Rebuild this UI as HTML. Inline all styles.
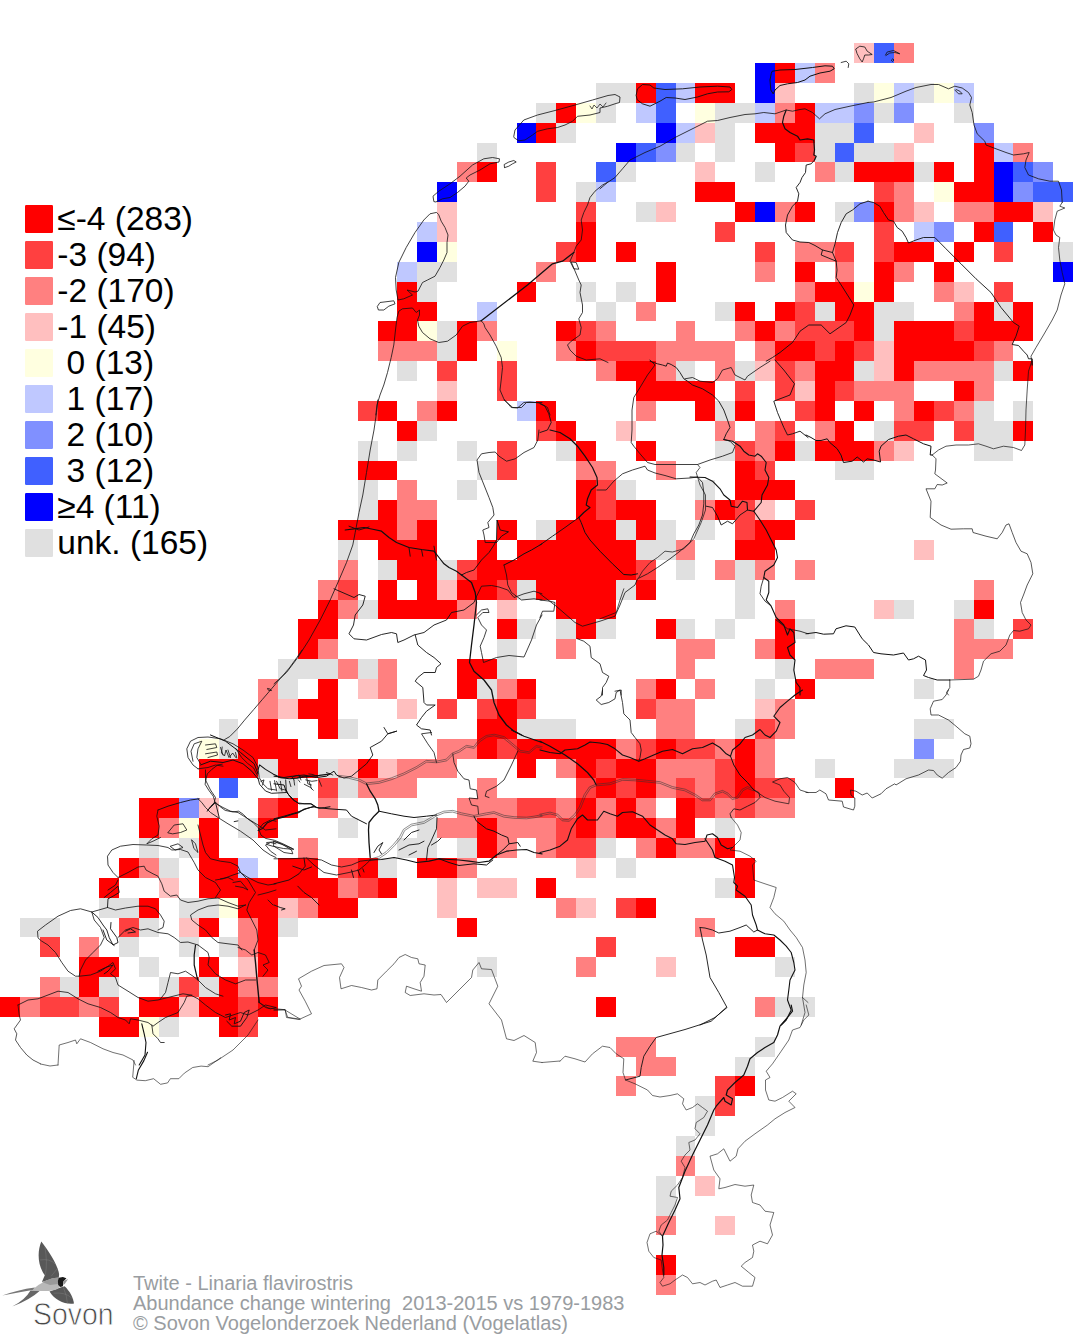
<!DOCTYPE html>
<html><head><meta charset="utf-8"><title>Twite</title>
<style>
html,body{margin:0;padding:0;background:#fff;}
body{width:1074px;height:1340px;overflow:hidden;font-family:"Liberation Sans",sans-serif;}
svg{display:block}
.lg{font-family:"Liberation Sans",sans-serif;font-size:33.5px;fill:#000;}
.ft{font-family:"Liberation Sans",sans-serif;font-size:20px;fill:#999da1;white-space:pre;}
</style></head><body>
<svg width="1074" height="1340" viewBox="0 0 1074 1340">
<g shape-rendering="crispEdges">
<rect x="854" y="43" width="20" height="20" fill="#ffbfbf"/>
<rect x="874" y="43" width="20" height="20" fill="#4060ff"/>
<rect x="894" y="43" width="20" height="20" fill="#ff8080"/>
<rect x="755" y="63" width="20" height="20" fill="#0000ff"/>
<rect x="775" y="63" width="20" height="20" fill="#ff0000"/>
<rect x="795" y="63" width="20" height="20" fill="#bfc8ff"/>
<rect x="815" y="63" width="20" height="20" fill="#ff8080"/>
<rect x="596" y="83" width="40" height="20" fill="#e0e0e0"/>
<rect x="636" y="83" width="20" height="20" fill="#ff0000"/>
<rect x="656" y="83" width="20" height="20" fill="#4060ff"/>
<rect x="676" y="83" width="19" height="20" fill="#bfc8ff"/>
<rect x="695" y="83" width="40" height="20" fill="#ff0000"/>
<rect x="755" y="83" width="20" height="20" fill="#0000ff"/>
<rect x="775" y="83" width="20" height="20" fill="#ffbfbf"/>
<rect x="854" y="83" width="20" height="20" fill="#e0e0e0"/>
<rect x="874" y="83" width="20" height="20" fill="#ffffe0"/>
<rect x="894" y="83" width="20" height="20" fill="#bfc8ff"/>
<rect x="914" y="83" width="20" height="20" fill="#e0e0e0"/>
<rect x="934" y="83" width="20" height="20" fill="#ffffe0"/>
<rect x="954" y="83" width="20" height="20" fill="#bfc8ff"/>
<rect x="536" y="103" width="20" height="20" fill="#e0e0e0"/>
<rect x="556" y="103" width="20" height="20" fill="#ff0000"/>
<rect x="576" y="103" width="20" height="20" fill="#ffffe0"/>
<rect x="596" y="103" width="20" height="20" fill="#e0e0e0"/>
<rect x="636" y="103" width="20" height="20" fill="#bfc8ff"/>
<rect x="656" y="103" width="20" height="20" fill="#4060ff"/>
<rect x="695" y="103" width="20" height="20" fill="#ffffe0"/>
<rect x="715" y="103" width="40" height="20" fill="#e0e0e0"/>
<rect x="755" y="103" width="20" height="20" fill="#bfc8ff"/>
<rect x="775" y="103" width="20" height="20" fill="#ff8080"/>
<rect x="795" y="103" width="20" height="20" fill="#ff0000"/>
<rect x="815" y="103" width="39" height="20" fill="#bfc8ff"/>
<rect x="854" y="103" width="20" height="20" fill="#8090ff"/>
<rect x="874" y="103" width="20" height="20" fill="#e0e0e0"/>
<rect x="894" y="103" width="20" height="20" fill="#8090ff"/>
<rect x="954" y="103" width="20" height="20" fill="#e0e0e0"/>
<rect x="517" y="123" width="19" height="20" fill="#0000ff"/>
<rect x="536" y="123" width="20" height="20" fill="#ff0000"/>
<rect x="556" y="123" width="20" height="20" fill="#e0e0e0"/>
<rect x="656" y="123" width="20" height="20" fill="#0000ff"/>
<rect x="676" y="123" width="19" height="20" fill="#bfc8ff"/>
<rect x="695" y="123" width="20" height="20" fill="#ffbfbf"/>
<rect x="715" y="123" width="20" height="20" fill="#e0e0e0"/>
<rect x="755" y="123" width="60" height="20" fill="#ff0000"/>
<rect x="815" y="123" width="39" height="20" fill="#e0e0e0"/>
<rect x="854" y="123" width="20" height="20" fill="#4060ff"/>
<rect x="914" y="123" width="20" height="20" fill="#ffbfbf"/>
<rect x="974" y="123" width="20" height="20" fill="#8090ff"/>
<rect x="477" y="143" width="20" height="19" fill="#e0e0e0"/>
<rect x="616" y="143" width="20" height="19" fill="#0000ff"/>
<rect x="636" y="143" width="20" height="19" fill="#4060ff"/>
<rect x="656" y="143" width="20" height="19" fill="#8090ff"/>
<rect x="676" y="143" width="19" height="19" fill="#e0e0e0"/>
<rect x="715" y="143" width="20" height="19" fill="#e0e0e0"/>
<rect x="775" y="143" width="20" height="19" fill="#ff0000"/>
<rect x="795" y="143" width="20" height="19" fill="#ff4040"/>
<rect x="815" y="143" width="20" height="19" fill="#e0e0e0"/>
<rect x="835" y="143" width="19" height="19" fill="#4060ff"/>
<rect x="854" y="143" width="40" height="19" fill="#e0e0e0"/>
<rect x="894" y="143" width="20" height="19" fill="#ffbfbf"/>
<rect x="974" y="143" width="20" height="19" fill="#ff0000"/>
<rect x="994" y="143" width="19" height="19" fill="#bfc8ff"/>
<rect x="1013" y="143" width="20" height="19" fill="#ff8080"/>
<rect x="457" y="162" width="20" height="20" fill="#ff8080"/>
<rect x="477" y="162" width="20" height="20" fill="#ff0000"/>
<rect x="536" y="162" width="20" height="20" fill="#ff4040"/>
<rect x="596" y="162" width="20" height="20" fill="#4060ff"/>
<rect x="616" y="162" width="20" height="20" fill="#e0e0e0"/>
<rect x="695" y="162" width="20" height="20" fill="#ffbfbf"/>
<rect x="755" y="162" width="20" height="20" fill="#e0e0e0"/>
<rect x="815" y="162" width="20" height="20" fill="#ff8080"/>
<rect x="835" y="162" width="19" height="20" fill="#e0e0e0"/>
<rect x="854" y="162" width="60" height="20" fill="#ff0000"/>
<rect x="914" y="162" width="20" height="20" fill="#e0e0e0"/>
<rect x="934" y="162" width="20" height="20" fill="#ff0000"/>
<rect x="974" y="162" width="20" height="20" fill="#ff0000"/>
<rect x="994" y="162" width="19" height="20" fill="#0000ff"/>
<rect x="1013" y="162" width="20" height="20" fill="#4060ff"/>
<rect x="1033" y="162" width="20" height="20" fill="#8090ff"/>
<rect x="437" y="182" width="20" height="20" fill="#0000ff"/>
<rect x="536" y="182" width="20" height="20" fill="#ff4040"/>
<rect x="576" y="182" width="20" height="20" fill="#e0e0e0"/>
<rect x="596" y="182" width="20" height="20" fill="#bfc8ff"/>
<rect x="695" y="182" width="40" height="20" fill="#ff0000"/>
<rect x="874" y="182" width="20" height="20" fill="#ff4040"/>
<rect x="894" y="182" width="20" height="20" fill="#ff8080"/>
<rect x="934" y="182" width="20" height="20" fill="#ffffe0"/>
<rect x="954" y="182" width="40" height="20" fill="#ff0000"/>
<rect x="994" y="182" width="19" height="20" fill="#0000ff"/>
<rect x="1013" y="182" width="20" height="20" fill="#8090ff"/>
<rect x="1033" y="182" width="40" height="20" fill="#4060ff"/>
<rect x="437" y="202" width="20" height="20" fill="#ffbfbf"/>
<rect x="576" y="202" width="20" height="20" fill="#ff4040"/>
<rect x="636" y="202" width="20" height="20" fill="#e0e0e0"/>
<rect x="656" y="202" width="20" height="20" fill="#ffbfbf"/>
<rect x="735" y="202" width="20" height="20" fill="#ff0000"/>
<rect x="755" y="202" width="20" height="20" fill="#0000ff"/>
<rect x="775" y="202" width="20" height="20" fill="#ff8080"/>
<rect x="795" y="202" width="20" height="20" fill="#ff0000"/>
<rect x="835" y="202" width="19" height="20" fill="#e0e0e0"/>
<rect x="854" y="202" width="20" height="20" fill="#8090ff"/>
<rect x="874" y="202" width="20" height="20" fill="#ff0000"/>
<rect x="894" y="202" width="20" height="20" fill="#ff8080"/>
<rect x="914" y="202" width="20" height="20" fill="#ffbfbf"/>
<rect x="954" y="202" width="40" height="20" fill="#ff8080"/>
<rect x="994" y="202" width="39" height="20" fill="#ff0000"/>
<rect x="1033" y="202" width="20" height="20" fill="#ffbfbf"/>
<rect x="417" y="222" width="20" height="20" fill="#bfc8ff"/>
<rect x="437" y="222" width="20" height="20" fill="#ffbfbf"/>
<rect x="576" y="222" width="20" height="20" fill="#ff0000"/>
<rect x="715" y="222" width="20" height="20" fill="#ff4040"/>
<rect x="874" y="222" width="20" height="20" fill="#ff4040"/>
<rect x="914" y="222" width="20" height="20" fill="#bfc8ff"/>
<rect x="934" y="222" width="20" height="20" fill="#8090ff"/>
<rect x="974" y="222" width="20" height="20" fill="#ff0000"/>
<rect x="994" y="222" width="19" height="20" fill="#4060ff"/>
<rect x="1033" y="222" width="20" height="20" fill="#ff0000"/>
<rect x="417" y="242" width="20" height="20" fill="#0000ff"/>
<rect x="437" y="242" width="20" height="20" fill="#ffffe0"/>
<rect x="556" y="242" width="20" height="20" fill="#ff4040"/>
<rect x="576" y="242" width="20" height="20" fill="#ff0000"/>
<rect x="616" y="242" width="20" height="20" fill="#ff0000"/>
<rect x="755" y="242" width="20" height="20" fill="#ff4040"/>
<rect x="795" y="242" width="40" height="20" fill="#ff8080"/>
<rect x="835" y="242" width="19" height="20" fill="#ff4040"/>
<rect x="874" y="242" width="20" height="20" fill="#ff4040"/>
<rect x="894" y="242" width="40" height="20" fill="#ff0000"/>
<rect x="954" y="242" width="20" height="20" fill="#ff0000"/>
<rect x="994" y="242" width="19" height="20" fill="#ff4040"/>
<rect x="1053" y="242" width="20" height="20" fill="#e0e0e0"/>
<rect x="397" y="262" width="20" height="20" fill="#bfc8ff"/>
<rect x="417" y="262" width="40" height="20" fill="#e0e0e0"/>
<rect x="536" y="262" width="20" height="20" fill="#ff8080"/>
<rect x="656" y="262" width="20" height="20" fill="#ff0000"/>
<rect x="755" y="262" width="20" height="20" fill="#ff8080"/>
<rect x="795" y="262" width="20" height="20" fill="#ff0000"/>
<rect x="835" y="262" width="19" height="20" fill="#ff8080"/>
<rect x="874" y="262" width="20" height="20" fill="#ff0000"/>
<rect x="894" y="262" width="20" height="20" fill="#ff8080"/>
<rect x="934" y="262" width="20" height="20" fill="#ff0000"/>
<rect x="1053" y="262" width="20" height="20" fill="#0000ff"/>
<rect x="397" y="282" width="20" height="20" fill="#ff0000"/>
<rect x="417" y="282" width="20" height="20" fill="#e0e0e0"/>
<rect x="517" y="282" width="19" height="20" fill="#ff0000"/>
<rect x="576" y="282" width="20" height="20" fill="#e0e0e0"/>
<rect x="616" y="282" width="20" height="20" fill="#e0e0e0"/>
<rect x="656" y="282" width="20" height="20" fill="#ff0000"/>
<rect x="795" y="282" width="20" height="20" fill="#ff8080"/>
<rect x="815" y="282" width="39" height="20" fill="#ff0000"/>
<rect x="854" y="282" width="20" height="20" fill="#ffffe0"/>
<rect x="874" y="282" width="20" height="20" fill="#ff0000"/>
<rect x="934" y="282" width="20" height="20" fill="#ff8080"/>
<rect x="954" y="282" width="20" height="20" fill="#ffbfbf"/>
<rect x="994" y="282" width="19" height="20" fill="#ff4040"/>
<rect x="397" y="302" width="40" height="19" fill="#ff0000"/>
<rect x="477" y="302" width="20" height="19" fill="#bfc8ff"/>
<rect x="596" y="302" width="20" height="19" fill="#e0e0e0"/>
<rect x="636" y="302" width="20" height="19" fill="#ff8080"/>
<rect x="715" y="302" width="20" height="19" fill="#e0e0e0"/>
<rect x="735" y="302" width="20" height="19" fill="#ff0000"/>
<rect x="775" y="302" width="20" height="19" fill="#ff0000"/>
<rect x="795" y="302" width="20" height="19" fill="#ff4040"/>
<rect x="815" y="302" width="20" height="19" fill="#e0e0e0"/>
<rect x="835" y="302" width="39" height="19" fill="#ff0000"/>
<rect x="874" y="302" width="40" height="19" fill="#e0e0e0"/>
<rect x="954" y="302" width="20" height="19" fill="#ff8080"/>
<rect x="974" y="302" width="20" height="19" fill="#ff0000"/>
<rect x="994" y="302" width="19" height="19" fill="#e0e0e0"/>
<rect x="1013" y="302" width="20" height="19" fill="#ff0000"/>
<rect x="378" y="321" width="39" height="20" fill="#ff0000"/>
<rect x="417" y="321" width="20" height="20" fill="#ffffe0"/>
<rect x="437" y="321" width="20" height="20" fill="#e0e0e0"/>
<rect x="457" y="321" width="20" height="20" fill="#ff0000"/>
<rect x="477" y="321" width="20" height="20" fill="#ff8080"/>
<rect x="556" y="321" width="20" height="20" fill="#ff0000"/>
<rect x="576" y="321" width="20" height="20" fill="#ff4040"/>
<rect x="596" y="321" width="20" height="20" fill="#ff8080"/>
<rect x="676" y="321" width="19" height="20" fill="#ff8080"/>
<rect x="735" y="321" width="20" height="20" fill="#ff8080"/>
<rect x="755" y="321" width="20" height="20" fill="#ff0000"/>
<rect x="775" y="321" width="20" height="20" fill="#ff8080"/>
<rect x="795" y="321" width="59" height="20" fill="#ff4040"/>
<rect x="854" y="321" width="20" height="20" fill="#ff0000"/>
<rect x="874" y="321" width="20" height="20" fill="#e0e0e0"/>
<rect x="894" y="321" width="60" height="20" fill="#ff0000"/>
<rect x="954" y="321" width="20" height="20" fill="#ff4040"/>
<rect x="974" y="321" width="59" height="20" fill="#ff0000"/>
<rect x="378" y="341" width="59" height="20" fill="#ff8080"/>
<rect x="437" y="341" width="20" height="20" fill="#e0e0e0"/>
<rect x="457" y="341" width="20" height="20" fill="#ff0000"/>
<rect x="497" y="341" width="20" height="20" fill="#ffffe0"/>
<rect x="556" y="341" width="20" height="20" fill="#ff8080"/>
<rect x="576" y="341" width="20" height="20" fill="#ff0000"/>
<rect x="596" y="341" width="60" height="20" fill="#ff4040"/>
<rect x="656" y="341" width="79" height="20" fill="#ff8080"/>
<rect x="755" y="341" width="20" height="20" fill="#ff8080"/>
<rect x="775" y="341" width="40" height="20" fill="#ff0000"/>
<rect x="815" y="341" width="20" height="20" fill="#ff4040"/>
<rect x="835" y="341" width="19" height="20" fill="#ff0000"/>
<rect x="854" y="341" width="20" height="20" fill="#ff4040"/>
<rect x="874" y="341" width="20" height="20" fill="#ffbfbf"/>
<rect x="894" y="341" width="80" height="20" fill="#ff0000"/>
<rect x="974" y="341" width="20" height="20" fill="#ff4040"/>
<rect x="994" y="341" width="19" height="20" fill="#ff8080"/>
<rect x="397" y="361" width="20" height="20" fill="#e0e0e0"/>
<rect x="437" y="361" width="20" height="20" fill="#ff4040"/>
<rect x="497" y="361" width="20" height="20" fill="#ff4040"/>
<rect x="596" y="361" width="20" height="20" fill="#ff8080"/>
<rect x="616" y="361" width="40" height="20" fill="#ff0000"/>
<rect x="656" y="361" width="20" height="20" fill="#ff8080"/>
<rect x="676" y="361" width="19" height="20" fill="#e0e0e0"/>
<rect x="715" y="361" width="20" height="20" fill="#ff8080"/>
<rect x="735" y="361" width="20" height="20" fill="#e0e0e0"/>
<rect x="755" y="361" width="20" height="20" fill="#ffbfbf"/>
<rect x="775" y="361" width="20" height="20" fill="#ff4040"/>
<rect x="795" y="361" width="20" height="20" fill="#ff8080"/>
<rect x="815" y="361" width="39" height="20" fill="#ff0000"/>
<rect x="854" y="361" width="20" height="20" fill="#e0e0e0"/>
<rect x="874" y="361" width="20" height="20" fill="#ffbfbf"/>
<rect x="894" y="361" width="20" height="20" fill="#ff0000"/>
<rect x="914" y="361" width="80" height="20" fill="#ff8080"/>
<rect x="994" y="361" width="19" height="20" fill="#e0e0e0"/>
<rect x="1013" y="361" width="20" height="20" fill="#ff0000"/>
<rect x="437" y="381" width="20" height="20" fill="#ffbfbf"/>
<rect x="497" y="381" width="20" height="20" fill="#ff4040"/>
<rect x="636" y="381" width="79" height="20" fill="#ff0000"/>
<rect x="735" y="381" width="20" height="20" fill="#ff4040"/>
<rect x="775" y="381" width="20" height="20" fill="#ff4040"/>
<rect x="795" y="381" width="20" height="20" fill="#ffbfbf"/>
<rect x="815" y="381" width="20" height="20" fill="#ff0000"/>
<rect x="835" y="381" width="19" height="20" fill="#ff4040"/>
<rect x="854" y="381" width="60" height="20" fill="#ff8080"/>
<rect x="954" y="381" width="20" height="20" fill="#ff0000"/>
<rect x="974" y="381" width="20" height="20" fill="#ff8080"/>
<rect x="358" y="401" width="20" height="20" fill="#ff4040"/>
<rect x="378" y="401" width="19" height="20" fill="#ff0000"/>
<rect x="417" y="401" width="20" height="20" fill="#ff8080"/>
<rect x="437" y="401" width="20" height="20" fill="#ff0000"/>
<rect x="517" y="401" width="19" height="20" fill="#bfc8ff"/>
<rect x="536" y="401" width="20" height="20" fill="#ff0000"/>
<rect x="636" y="401" width="20" height="20" fill="#ff8080"/>
<rect x="695" y="401" width="20" height="20" fill="#ff0000"/>
<rect x="715" y="401" width="20" height="20" fill="#e0e0e0"/>
<rect x="735" y="401" width="20" height="20" fill="#ff0000"/>
<rect x="795" y="401" width="20" height="20" fill="#ff4040"/>
<rect x="815" y="401" width="20" height="20" fill="#ff0000"/>
<rect x="854" y="401" width="20" height="20" fill="#ff0000"/>
<rect x="894" y="401" width="20" height="20" fill="#ff8080"/>
<rect x="914" y="401" width="20" height="20" fill="#ff0000"/>
<rect x="934" y="401" width="20" height="20" fill="#ff4040"/>
<rect x="954" y="401" width="20" height="20" fill="#ff8080"/>
<rect x="974" y="401" width="20" height="20" fill="#e0e0e0"/>
<rect x="1013" y="401" width="20" height="20" fill="#e0e0e0"/>
<rect x="397" y="421" width="20" height="20" fill="#ff0000"/>
<rect x="417" y="421" width="20" height="20" fill="#e0e0e0"/>
<rect x="536" y="421" width="20" height="20" fill="#ff4040"/>
<rect x="556" y="421" width="20" height="20" fill="#ff0000"/>
<rect x="616" y="421" width="20" height="20" fill="#ffbfbf"/>
<rect x="715" y="421" width="20" height="20" fill="#ff8080"/>
<rect x="755" y="421" width="20" height="20" fill="#ff8080"/>
<rect x="775" y="421" width="20" height="20" fill="#ff4040"/>
<rect x="815" y="421" width="20" height="20" fill="#ff8080"/>
<rect x="835" y="421" width="19" height="20" fill="#ff0000"/>
<rect x="874" y="421" width="20" height="20" fill="#e0e0e0"/>
<rect x="894" y="421" width="40" height="20" fill="#ff4040"/>
<rect x="954" y="421" width="20" height="20" fill="#ff4040"/>
<rect x="974" y="421" width="39" height="20" fill="#e0e0e0"/>
<rect x="1013" y="421" width="20" height="20" fill="#ff0000"/>
<rect x="358" y="441" width="20" height="20" fill="#e0e0e0"/>
<rect x="397" y="441" width="20" height="20" fill="#e0e0e0"/>
<rect x="457" y="441" width="20" height="20" fill="#e0e0e0"/>
<rect x="497" y="441" width="20" height="20" fill="#ff4040"/>
<rect x="556" y="441" width="20" height="20" fill="#e0e0e0"/>
<rect x="576" y="441" width="20" height="20" fill="#ff0000"/>
<rect x="636" y="441" width="20" height="20" fill="#ff0000"/>
<rect x="715" y="441" width="20" height="20" fill="#e0e0e0"/>
<rect x="735" y="441" width="20" height="20" fill="#ff4040"/>
<rect x="755" y="441" width="20" height="20" fill="#ff8080"/>
<rect x="775" y="441" width="20" height="20" fill="#ff0000"/>
<rect x="795" y="441" width="20" height="20" fill="#e0e0e0"/>
<rect x="815" y="441" width="59" height="20" fill="#ff0000"/>
<rect x="874" y="441" width="20" height="20" fill="#ff8080"/>
<rect x="894" y="441" width="20" height="20" fill="#ffbfbf"/>
<rect x="974" y="441" width="39" height="20" fill="#e0e0e0"/>
<rect x="358" y="461" width="39" height="19" fill="#ff0000"/>
<rect x="477" y="461" width="20" height="19" fill="#e0e0e0"/>
<rect x="497" y="461" width="20" height="19" fill="#ff4040"/>
<rect x="576" y="461" width="40" height="19" fill="#ff8080"/>
<rect x="656" y="461" width="20" height="19" fill="#ff8080"/>
<rect x="735" y="461" width="20" height="19" fill="#ff0000"/>
<rect x="755" y="461" width="20" height="19" fill="#ff4040"/>
<rect x="835" y="461" width="39" height="19" fill="#e0e0e0"/>
<rect x="358" y="480" width="20" height="20" fill="#e0e0e0"/>
<rect x="397" y="480" width="20" height="20" fill="#ff8080"/>
<rect x="457" y="480" width="20" height="20" fill="#e0e0e0"/>
<rect x="576" y="480" width="20" height="20" fill="#ff0000"/>
<rect x="596" y="480" width="20" height="20" fill="#ff4040"/>
<rect x="616" y="480" width="20" height="20" fill="#e0e0e0"/>
<rect x="695" y="480" width="20" height="20" fill="#e0e0e0"/>
<rect x="735" y="480" width="60" height="20" fill="#ff0000"/>
<rect x="358" y="500" width="20" height="20" fill="#e0e0e0"/>
<rect x="378" y="500" width="19" height="20" fill="#ff0000"/>
<rect x="397" y="500" width="40" height="20" fill="#ff8080"/>
<rect x="576" y="500" width="20" height="20" fill="#ff0000"/>
<rect x="596" y="500" width="20" height="20" fill="#ff4040"/>
<rect x="616" y="500" width="40" height="20" fill="#ff0000"/>
<rect x="695" y="500" width="20" height="20" fill="#ff8080"/>
<rect x="715" y="500" width="20" height="20" fill="#ff0000"/>
<rect x="735" y="500" width="20" height="20" fill="#ff4040"/>
<rect x="755" y="500" width="20" height="20" fill="#ffbfbf"/>
<rect x="795" y="500" width="20" height="20" fill="#ff4040"/>
<rect x="338" y="520" width="59" height="20" fill="#ff0000"/>
<rect x="397" y="520" width="20" height="20" fill="#ff8080"/>
<rect x="417" y="520" width="20" height="20" fill="#ff0000"/>
<rect x="497" y="520" width="20" height="20" fill="#ff0000"/>
<rect x="536" y="520" width="20" height="20" fill="#e0e0e0"/>
<rect x="556" y="520" width="60" height="20" fill="#ff0000"/>
<rect x="616" y="520" width="20" height="20" fill="#e0e0e0"/>
<rect x="636" y="520" width="20" height="20" fill="#ff0000"/>
<rect x="656" y="520" width="20" height="20" fill="#e0e0e0"/>
<rect x="695" y="520" width="20" height="20" fill="#e0e0e0"/>
<rect x="735" y="520" width="20" height="20" fill="#ff4040"/>
<rect x="755" y="520" width="40" height="20" fill="#ff0000"/>
<rect x="338" y="540" width="20" height="20" fill="#e0e0e0"/>
<rect x="378" y="540" width="59" height="20" fill="#ff0000"/>
<rect x="477" y="540" width="20" height="20" fill="#ff0000"/>
<rect x="517" y="540" width="119" height="20" fill="#ff0000"/>
<rect x="636" y="540" width="40" height="20" fill="#e0e0e0"/>
<rect x="676" y="540" width="19" height="20" fill="#ff8080"/>
<rect x="735" y="540" width="40" height="20" fill="#ff0000"/>
<rect x="914" y="540" width="20" height="20" fill="#ffbfbf"/>
<rect x="338" y="560" width="20" height="20" fill="#ff8080"/>
<rect x="378" y="560" width="19" height="20" fill="#e0e0e0"/>
<rect x="397" y="560" width="40" height="20" fill="#ff0000"/>
<rect x="437" y="560" width="20" height="20" fill="#e0e0e0"/>
<rect x="457" y="560" width="20" height="20" fill="#ff4040"/>
<rect x="477" y="560" width="159" height="20" fill="#ff0000"/>
<rect x="636" y="560" width="20" height="20" fill="#ff4040"/>
<rect x="676" y="560" width="19" height="20" fill="#e0e0e0"/>
<rect x="715" y="560" width="20" height="20" fill="#ff8080"/>
<rect x="735" y="560" width="20" height="20" fill="#e0e0e0"/>
<rect x="755" y="560" width="20" height="20" fill="#ff8080"/>
<rect x="795" y="560" width="20" height="20" fill="#ff8080"/>
<rect x="318" y="580" width="20" height="20" fill="#ff8080"/>
<rect x="338" y="580" width="20" height="20" fill="#ff4040"/>
<rect x="378" y="580" width="19" height="20" fill="#ff0000"/>
<rect x="417" y="580" width="20" height="20" fill="#ff0000"/>
<rect x="437" y="580" width="20" height="20" fill="#ffbfbf"/>
<rect x="457" y="580" width="40" height="20" fill="#ff0000"/>
<rect x="497" y="580" width="20" height="20" fill="#ff4040"/>
<rect x="517" y="580" width="19" height="20" fill="#e0e0e0"/>
<rect x="536" y="580" width="80" height="20" fill="#ff0000"/>
<rect x="616" y="580" width="20" height="20" fill="#e0e0e0"/>
<rect x="636" y="580" width="20" height="20" fill="#ff0000"/>
<rect x="735" y="580" width="20" height="20" fill="#e0e0e0"/>
<rect x="974" y="580" width="20" height="20" fill="#ff8080"/>
<rect x="318" y="600" width="20" height="19" fill="#ff0000"/>
<rect x="338" y="600" width="20" height="19" fill="#ff8080"/>
<rect x="358" y="600" width="20" height="19" fill="#e0e0e0"/>
<rect x="378" y="600" width="79" height="19" fill="#ff0000"/>
<rect x="457" y="600" width="20" height="19" fill="#ff8080"/>
<rect x="497" y="600" width="20" height="19" fill="#ffbfbf"/>
<rect x="556" y="600" width="60" height="19" fill="#ff0000"/>
<rect x="735" y="600" width="20" height="19" fill="#e0e0e0"/>
<rect x="775" y="600" width="20" height="19" fill="#ff8080"/>
<rect x="874" y="600" width="20" height="19" fill="#ffbfbf"/>
<rect x="894" y="600" width="20" height="19" fill="#e0e0e0"/>
<rect x="954" y="600" width="20" height="19" fill="#e0e0e0"/>
<rect x="974" y="600" width="20" height="19" fill="#ff0000"/>
<rect x="298" y="619" width="40" height="20" fill="#ff0000"/>
<rect x="497" y="619" width="20" height="20" fill="#ff0000"/>
<rect x="517" y="619" width="19" height="20" fill="#e0e0e0"/>
<rect x="556" y="619" width="20" height="20" fill="#e0e0e0"/>
<rect x="576" y="619" width="20" height="20" fill="#ff0000"/>
<rect x="596" y="619" width="20" height="20" fill="#e0e0e0"/>
<rect x="656" y="619" width="20" height="20" fill="#ff0000"/>
<rect x="676" y="619" width="19" height="20" fill="#e0e0e0"/>
<rect x="715" y="619" width="20" height="20" fill="#e0e0e0"/>
<rect x="775" y="619" width="20" height="20" fill="#ff0000"/>
<rect x="795" y="619" width="20" height="20" fill="#e0e0e0"/>
<rect x="954" y="619" width="20" height="20" fill="#ff8080"/>
<rect x="974" y="619" width="20" height="20" fill="#e0e0e0"/>
<rect x="1013" y="619" width="20" height="20" fill="#ff4040"/>
<rect x="298" y="639" width="20" height="20" fill="#ff0000"/>
<rect x="318" y="639" width="20" height="20" fill="#ff8080"/>
<rect x="497" y="639" width="20" height="20" fill="#e0e0e0"/>
<rect x="556" y="639" width="20" height="20" fill="#ff8080"/>
<rect x="676" y="639" width="39" height="20" fill="#ff8080"/>
<rect x="755" y="639" width="20" height="20" fill="#ff8080"/>
<rect x="775" y="639" width="20" height="20" fill="#ff0000"/>
<rect x="954" y="639" width="59" height="20" fill="#ff8080"/>
<rect x="278" y="659" width="60" height="20" fill="#e0e0e0"/>
<rect x="338" y="659" width="20" height="20" fill="#ff8080"/>
<rect x="358" y="659" width="20" height="20" fill="#e0e0e0"/>
<rect x="378" y="659" width="19" height="20" fill="#ff8080"/>
<rect x="457" y="659" width="40" height="20" fill="#ff0000"/>
<rect x="497" y="659" width="20" height="20" fill="#e0e0e0"/>
<rect x="676" y="659" width="19" height="20" fill="#ff8080"/>
<rect x="775" y="659" width="20" height="20" fill="#e0e0e0"/>
<rect x="815" y="659" width="59" height="20" fill="#ff8080"/>
<rect x="954" y="659" width="20" height="20" fill="#ff8080"/>
<rect x="258" y="679" width="20" height="20" fill="#ff8080"/>
<rect x="278" y="679" width="20" height="20" fill="#e0e0e0"/>
<rect x="318" y="679" width="20" height="20" fill="#ff0000"/>
<rect x="358" y="679" width="20" height="20" fill="#ffbfbf"/>
<rect x="378" y="679" width="19" height="20" fill="#ff8080"/>
<rect x="457" y="679" width="20" height="20" fill="#ff0000"/>
<rect x="477" y="679" width="20" height="20" fill="#e0e0e0"/>
<rect x="497" y="679" width="20" height="20" fill="#ff8080"/>
<rect x="517" y="679" width="19" height="20" fill="#ff0000"/>
<rect x="636" y="679" width="20" height="20" fill="#ff8080"/>
<rect x="656" y="679" width="20" height="20" fill="#ff0000"/>
<rect x="695" y="679" width="20" height="20" fill="#ff8080"/>
<rect x="755" y="679" width="20" height="20" fill="#e0e0e0"/>
<rect x="795" y="679" width="20" height="20" fill="#ff0000"/>
<rect x="914" y="679" width="20" height="20" fill="#e0e0e0"/>
<rect x="258" y="699" width="20" height="20" fill="#ff8080"/>
<rect x="278" y="699" width="20" height="20" fill="#ffbfbf"/>
<rect x="298" y="699" width="40" height="20" fill="#ff0000"/>
<rect x="397" y="699" width="20" height="20" fill="#ffbfbf"/>
<rect x="437" y="699" width="20" height="20" fill="#ff4040"/>
<rect x="477" y="699" width="20" height="20" fill="#ff4040"/>
<rect x="497" y="699" width="20" height="20" fill="#ff0000"/>
<rect x="517" y="699" width="19" height="20" fill="#ff4040"/>
<rect x="636" y="699" width="20" height="20" fill="#ff4040"/>
<rect x="656" y="699" width="39" height="20" fill="#ff8080"/>
<rect x="755" y="699" width="20" height="20" fill="#ffbfbf"/>
<rect x="775" y="699" width="20" height="20" fill="#ff8080"/>
<rect x="219" y="719" width="19" height="20" fill="#e0e0e0"/>
<rect x="258" y="719" width="20" height="20" fill="#ff0000"/>
<rect x="318" y="719" width="20" height="20" fill="#ff0000"/>
<rect x="338" y="719" width="20" height="20" fill="#e0e0e0"/>
<rect x="477" y="719" width="40" height="20" fill="#ff0000"/>
<rect x="517" y="719" width="59" height="20" fill="#e0e0e0"/>
<rect x="656" y="719" width="39" height="20" fill="#ff8080"/>
<rect x="735" y="719" width="20" height="20" fill="#e0e0e0"/>
<rect x="755" y="719" width="20" height="20" fill="#ff4040"/>
<rect x="775" y="719" width="20" height="20" fill="#ff8080"/>
<rect x="914" y="719" width="40" height="20" fill="#e0e0e0"/>
<rect x="199" y="739" width="20" height="20" fill="#ffffe0"/>
<rect x="219" y="739" width="19" height="20" fill="#e0e0e0"/>
<rect x="238" y="739" width="60" height="20" fill="#ff0000"/>
<rect x="437" y="739" width="40" height="20" fill="#ff8080"/>
<rect x="477" y="739" width="20" height="20" fill="#ff0000"/>
<rect x="497" y="739" width="20" height="20" fill="#ff4040"/>
<rect x="517" y="739" width="99" height="20" fill="#ff0000"/>
<rect x="616" y="739" width="20" height="20" fill="#ff8080"/>
<rect x="636" y="739" width="20" height="20" fill="#ff4040"/>
<rect x="656" y="739" width="20" height="20" fill="#ff0000"/>
<rect x="676" y="739" width="39" height="20" fill="#ff4040"/>
<rect x="715" y="739" width="20" height="20" fill="#ff8080"/>
<rect x="735" y="739" width="20" height="20" fill="#ff0000"/>
<rect x="755" y="739" width="20" height="20" fill="#ff8080"/>
<rect x="914" y="739" width="20" height="20" fill="#8090ff"/>
<rect x="199" y="759" width="59" height="19" fill="#ff0000"/>
<rect x="258" y="759" width="20" height="19" fill="#e0e0e0"/>
<rect x="278" y="759" width="40" height="19" fill="#ff0000"/>
<rect x="318" y="759" width="20" height="19" fill="#e0e0e0"/>
<rect x="338" y="759" width="20" height="19" fill="#ffbfbf"/>
<rect x="358" y="759" width="20" height="19" fill="#ff0000"/>
<rect x="378" y="759" width="19" height="19" fill="#ffbfbf"/>
<rect x="397" y="759" width="60" height="19" fill="#ff8080"/>
<rect x="517" y="759" width="19" height="19" fill="#ff0000"/>
<rect x="556" y="759" width="20" height="19" fill="#ff8080"/>
<rect x="576" y="759" width="20" height="19" fill="#ff0000"/>
<rect x="596" y="759" width="20" height="19" fill="#ff4040"/>
<rect x="616" y="759" width="40" height="19" fill="#ff0000"/>
<rect x="656" y="759" width="59" height="19" fill="#ff8080"/>
<rect x="715" y="759" width="20" height="19" fill="#ff4040"/>
<rect x="735" y="759" width="20" height="19" fill="#ff0000"/>
<rect x="755" y="759" width="20" height="19" fill="#ff8080"/>
<rect x="815" y="759" width="20" height="19" fill="#e0e0e0"/>
<rect x="894" y="759" width="60" height="19" fill="#e0e0e0"/>
<rect x="219" y="778" width="19" height="20" fill="#4060ff"/>
<rect x="278" y="778" width="20" height="20" fill="#e0e0e0"/>
<rect x="318" y="778" width="20" height="20" fill="#ff4040"/>
<rect x="338" y="778" width="20" height="20" fill="#e0e0e0"/>
<rect x="358" y="778" width="59" height="20" fill="#ff8080"/>
<rect x="477" y="778" width="20" height="20" fill="#ff8080"/>
<rect x="576" y="778" width="20" height="20" fill="#ff4040"/>
<rect x="596" y="778" width="20" height="20" fill="#ff0000"/>
<rect x="616" y="778" width="20" height="20" fill="#ff4040"/>
<rect x="636" y="778" width="20" height="20" fill="#ff0000"/>
<rect x="656" y="778" width="20" height="20" fill="#ff8080"/>
<rect x="676" y="778" width="19" height="20" fill="#ff4040"/>
<rect x="695" y="778" width="20" height="20" fill="#ff8080"/>
<rect x="715" y="778" width="20" height="20" fill="#ff4040"/>
<rect x="735" y="778" width="20" height="20" fill="#ff0000"/>
<rect x="755" y="778" width="40" height="20" fill="#ff4040"/>
<rect x="835" y="778" width="19" height="20" fill="#ff0000"/>
<rect x="139" y="798" width="40" height="20" fill="#ff0000"/>
<rect x="179" y="798" width="20" height="20" fill="#8090ff"/>
<rect x="199" y="798" width="20" height="20" fill="#ffbfbf"/>
<rect x="258" y="798" width="20" height="20" fill="#ff4040"/>
<rect x="278" y="798" width="20" height="20" fill="#ff0000"/>
<rect x="318" y="798" width="20" height="20" fill="#ff8080"/>
<rect x="457" y="798" width="60" height="20" fill="#ff8080"/>
<rect x="517" y="798" width="39" height="20" fill="#ff4040"/>
<rect x="556" y="798" width="20" height="20" fill="#ff8080"/>
<rect x="576" y="798" width="20" height="20" fill="#ff0000"/>
<rect x="596" y="798" width="20" height="20" fill="#ff8080"/>
<rect x="616" y="798" width="20" height="20" fill="#ff0000"/>
<rect x="636" y="798" width="20" height="20" fill="#ff8080"/>
<rect x="676" y="798" width="19" height="20" fill="#ff0000"/>
<rect x="695" y="798" width="20" height="20" fill="#ff4040"/>
<rect x="715" y="798" width="20" height="20" fill="#ff8080"/>
<rect x="735" y="798" width="20" height="20" fill="#ff4040"/>
<rect x="755" y="798" width="40" height="20" fill="#ff8080"/>
<rect x="139" y="818" width="20" height="20" fill="#ff0000"/>
<rect x="159" y="818" width="20" height="20" fill="#ff8080"/>
<rect x="179" y="818" width="20" height="20" fill="#ffffe0"/>
<rect x="199" y="818" width="20" height="20" fill="#ff0000"/>
<rect x="238" y="818" width="20" height="20" fill="#e0e0e0"/>
<rect x="258" y="818" width="20" height="20" fill="#ff0000"/>
<rect x="338" y="818" width="20" height="20" fill="#e0e0e0"/>
<rect x="417" y="818" width="20" height="20" fill="#e0e0e0"/>
<rect x="437" y="818" width="40" height="20" fill="#ff8080"/>
<rect x="477" y="818" width="20" height="20" fill="#ff0000"/>
<rect x="497" y="818" width="59" height="20" fill="#ff8080"/>
<rect x="556" y="818" width="20" height="20" fill="#ff4040"/>
<rect x="576" y="818" width="20" height="20" fill="#ff0000"/>
<rect x="596" y="818" width="20" height="20" fill="#ff8080"/>
<rect x="616" y="818" width="40" height="20" fill="#ff0000"/>
<rect x="656" y="818" width="20" height="20" fill="#ff8080"/>
<rect x="676" y="818" width="19" height="20" fill="#ff0000"/>
<rect x="715" y="818" width="20" height="20" fill="#e0e0e0"/>
<rect x="139" y="838" width="20" height="20" fill="#e0e0e0"/>
<rect x="179" y="838" width="20" height="20" fill="#e0e0e0"/>
<rect x="199" y="838" width="20" height="20" fill="#ff0000"/>
<rect x="298" y="838" width="20" height="20" fill="#ff8080"/>
<rect x="397" y="838" width="40" height="20" fill="#e0e0e0"/>
<rect x="457" y="838" width="20" height="20" fill="#e0e0e0"/>
<rect x="477" y="838" width="20" height="20" fill="#ff0000"/>
<rect x="497" y="838" width="20" height="20" fill="#ff8080"/>
<rect x="536" y="838" width="20" height="20" fill="#ff8080"/>
<rect x="556" y="838" width="40" height="20" fill="#ff4040"/>
<rect x="596" y="838" width="20" height="20" fill="#e0e0e0"/>
<rect x="636" y="838" width="20" height="20" fill="#ff8080"/>
<rect x="656" y="838" width="20" height="20" fill="#ff0000"/>
<rect x="676" y="838" width="39" height="20" fill="#ff8080"/>
<rect x="715" y="838" width="20" height="20" fill="#ff0000"/>
<rect x="119" y="858" width="20" height="20" fill="#ff0000"/>
<rect x="139" y="858" width="20" height="20" fill="#ff8080"/>
<rect x="159" y="858" width="20" height="20" fill="#e0e0e0"/>
<rect x="199" y="858" width="39" height="20" fill="#ff0000"/>
<rect x="238" y="858" width="20" height="20" fill="#bfc8ff"/>
<rect x="278" y="858" width="40" height="20" fill="#ff0000"/>
<rect x="338" y="858" width="20" height="20" fill="#ff4040"/>
<rect x="358" y="858" width="20" height="20" fill="#ff0000"/>
<rect x="378" y="858" width="19" height="20" fill="#e0e0e0"/>
<rect x="417" y="858" width="40" height="20" fill="#ff0000"/>
<rect x="457" y="858" width="20" height="20" fill="#ff8080"/>
<rect x="576" y="858" width="20" height="20" fill="#ffbfbf"/>
<rect x="616" y="858" width="20" height="20" fill="#e0e0e0"/>
<rect x="735" y="858" width="20" height="20" fill="#ff0000"/>
<rect x="99" y="878" width="20" height="20" fill="#ff0000"/>
<rect x="159" y="878" width="20" height="20" fill="#ffbfbf"/>
<rect x="199" y="878" width="139" height="20" fill="#ff0000"/>
<rect x="338" y="878" width="20" height="20" fill="#ff8080"/>
<rect x="358" y="878" width="20" height="20" fill="#ff4040"/>
<rect x="378" y="878" width="19" height="20" fill="#ff0000"/>
<rect x="437" y="878" width="20" height="20" fill="#ffbfbf"/>
<rect x="477" y="878" width="40" height="20" fill="#ffbfbf"/>
<rect x="536" y="878" width="20" height="20" fill="#ff0000"/>
<rect x="715" y="878" width="20" height="20" fill="#e0e0e0"/>
<rect x="735" y="878" width="20" height="20" fill="#ff0000"/>
<rect x="99" y="898" width="40" height="20" fill="#e0e0e0"/>
<rect x="139" y="898" width="20" height="20" fill="#ff0000"/>
<rect x="179" y="898" width="40" height="20" fill="#e0e0e0"/>
<rect x="219" y="898" width="19" height="20" fill="#ffffe0"/>
<rect x="238" y="898" width="40" height="20" fill="#ff0000"/>
<rect x="278" y="898" width="20" height="20" fill="#ffbfbf"/>
<rect x="298" y="898" width="20" height="20" fill="#ff8080"/>
<rect x="318" y="898" width="40" height="20" fill="#ff0000"/>
<rect x="437" y="898" width="20" height="20" fill="#ffbfbf"/>
<rect x="556" y="898" width="20" height="20" fill="#ff8080"/>
<rect x="576" y="898" width="20" height="20" fill="#ffbfbf"/>
<rect x="616" y="898" width="20" height="20" fill="#ff4040"/>
<rect x="636" y="898" width="20" height="20" fill="#ff0000"/>
<rect x="20" y="918" width="40" height="19" fill="#e0e0e0"/>
<rect x="119" y="918" width="20" height="19" fill="#ff4040"/>
<rect x="139" y="918" width="20" height="19" fill="#e0e0e0"/>
<rect x="179" y="918" width="20" height="19" fill="#ffbfbf"/>
<rect x="199" y="918" width="20" height="19" fill="#ff0000"/>
<rect x="238" y="918" width="20" height="19" fill="#ff8080"/>
<rect x="258" y="918" width="20" height="19" fill="#ff0000"/>
<rect x="278" y="918" width="20" height="19" fill="#e0e0e0"/>
<rect x="457" y="918" width="20" height="19" fill="#ff0000"/>
<rect x="695" y="918" width="20" height="19" fill="#ff8080"/>
<rect x="40" y="937" width="20" height="20" fill="#ff4040"/>
<rect x="79" y="937" width="20" height="20" fill="#ff8080"/>
<rect x="119" y="937" width="20" height="20" fill="#e0e0e0"/>
<rect x="179" y="937" width="20" height="20" fill="#e0e0e0"/>
<rect x="219" y="937" width="19" height="20" fill="#e0e0e0"/>
<rect x="238" y="937" width="20" height="20" fill="#ff8080"/>
<rect x="258" y="937" width="20" height="20" fill="#ff0000"/>
<rect x="596" y="937" width="20" height="20" fill="#ff4040"/>
<rect x="735" y="937" width="40" height="20" fill="#ff0000"/>
<rect x="79" y="957" width="40" height="20" fill="#ff0000"/>
<rect x="139" y="957" width="20" height="20" fill="#e0e0e0"/>
<rect x="199" y="957" width="20" height="20" fill="#ff0000"/>
<rect x="238" y="957" width="20" height="20" fill="#ffbfbf"/>
<rect x="258" y="957" width="20" height="20" fill="#ff0000"/>
<rect x="477" y="957" width="20" height="20" fill="#e0e0e0"/>
<rect x="576" y="957" width="20" height="20" fill="#ff8080"/>
<rect x="656" y="957" width="20" height="20" fill="#ffbfbf"/>
<rect x="775" y="957" width="20" height="20" fill="#e0e0e0"/>
<rect x="40" y="977" width="20" height="20" fill="#ff8080"/>
<rect x="60" y="977" width="19" height="20" fill="#e0e0e0"/>
<rect x="79" y="977" width="20" height="20" fill="#ff0000"/>
<rect x="99" y="977" width="20" height="20" fill="#e0e0e0"/>
<rect x="159" y="977" width="20" height="20" fill="#e0e0e0"/>
<rect x="179" y="977" width="20" height="20" fill="#ff4040"/>
<rect x="199" y="977" width="20" height="20" fill="#e0e0e0"/>
<rect x="219" y="977" width="19" height="20" fill="#ff0000"/>
<rect x="238" y="977" width="40" height="20" fill="#ff8080"/>
<rect x="0" y="997" width="20" height="20" fill="#ff0000"/>
<rect x="20" y="997" width="20" height="20" fill="#ff8080"/>
<rect x="40" y="997" width="39" height="20" fill="#ff4040"/>
<rect x="79" y="997" width="20" height="20" fill="#ff8080"/>
<rect x="99" y="997" width="20" height="20" fill="#ff4040"/>
<rect x="139" y="997" width="40" height="20" fill="#ff0000"/>
<rect x="179" y="997" width="20" height="20" fill="#ffbfbf"/>
<rect x="199" y="997" width="39" height="20" fill="#ff0000"/>
<rect x="238" y="997" width="20" height="20" fill="#ff4040"/>
<rect x="258" y="997" width="20" height="20" fill="#ff0000"/>
<rect x="596" y="997" width="20" height="20" fill="#ff0000"/>
<rect x="755" y="997" width="20" height="20" fill="#ff8080"/>
<rect x="775" y="997" width="40" height="20" fill="#e0e0e0"/>
<rect x="99" y="1017" width="40" height="20" fill="#ff0000"/>
<rect x="139" y="1017" width="20" height="20" fill="#ffffe0"/>
<rect x="159" y="1017" width="20" height="20" fill="#e0e0e0"/>
<rect x="219" y="1017" width="19" height="20" fill="#ff0000"/>
<rect x="238" y="1017" width="20" height="20" fill="#ff4040"/>
<rect x="616" y="1037" width="40" height="20" fill="#ff8080"/>
<rect x="755" y="1037" width="20" height="20" fill="#e0e0e0"/>
<rect x="636" y="1057" width="40" height="19" fill="#ff8080"/>
<rect x="735" y="1057" width="20" height="19" fill="#e0e0e0"/>
<rect x="616" y="1076" width="20" height="20" fill="#ff8080"/>
<rect x="715" y="1076" width="20" height="20" fill="#ff4040"/>
<rect x="735" y="1076" width="20" height="20" fill="#ff0000"/>
<rect x="695" y="1096" width="20" height="20" fill="#e0e0e0"/>
<rect x="715" y="1096" width="20" height="20" fill="#ff4040"/>
<rect x="695" y="1116" width="20" height="20" fill="#e0e0e0"/>
<rect x="676" y="1136" width="19" height="20" fill="#e0e0e0"/>
<rect x="676" y="1156" width="19" height="20" fill="#ff8080"/>
<rect x="656" y="1176" width="20" height="20" fill="#e0e0e0"/>
<rect x="695" y="1176" width="20" height="20" fill="#ffbfbf"/>
<rect x="656" y="1196" width="20" height="20" fill="#e0e0e0"/>
<rect x="656" y="1216" width="20" height="19" fill="#ff8080"/>
<rect x="715" y="1216" width="20" height="19" fill="#ffbfbf"/>
<rect x="656" y="1255" width="20" height="20" fill="#ff0000"/>
<rect x="656" y="1275" width="20" height="20" fill="#ff8080"/>
</g>
<g>
<rect x="25" y="205" width="28" height="28" rx="1.2" fill="#ff0000"/>
<rect x="25" y="241" width="28" height="28" rx="1.2" fill="#ff4040"/>
<rect x="25" y="277" width="28" height="28" rx="1.2" fill="#ff8080"/>
<rect x="25" y="313" width="28" height="28" rx="1.2" fill="#ffbfbf"/>
<rect x="25" y="349" width="28" height="28" rx="1.2" fill="#ffffe0"/>
<rect x="25" y="385" width="28" height="28" rx="1.2" fill="#bfc8ff"/>
<rect x="25" y="421" width="28" height="28" rx="1.2" fill="#8090ff"/>
<rect x="25" y="457" width="28" height="28" rx="1.2" fill="#4060ff"/>
<rect x="25" y="493" width="28" height="28" rx="1.2" fill="#0000ff"/>
<rect x="25" y="529" width="28" height="28" rx="1.2" fill="#e0e0e0"/>
</g>
<text x="57.3" y="229.6" class="lg">≤-4 (283)</text>
<text x="57.3" y="265.6" class="lg">-3 (94)</text>
<text x="57.3" y="301.6" class="lg">-2 (170)</text>
<text x="57.3" y="337.6" class="lg">-1 (45)</text>
<text x="57.3" y="373.6" class="lg"> 0 (13)</text>
<text x="57.3" y="409.6" class="lg"> 1 (17)</text>
<text x="57.3" y="445.6" class="lg"> 2 (10)</text>
<text x="57.3" y="481.6" class="lg"> 3 (12)</text>
<text x="57.3" y="517.6" class="lg">≥4 (11)</text>
<text x="57.3" y="553.6" class="lg">unk. (165)</text>
<g fill="none" stroke="#111" stroke-linejoin="round" stroke-linecap="round">
<path d="M433.8,201.2 L433.0,196.2 L438.8,191.2 L450.0,183.8 L460.0,176.2 L472.5,165.0 L483.8,158.8 L492.5,157.5 L499.5,158.8 L499.0,162.0 L490.0,163.8 L480.0,170.0 L470.0,175.0 L466.2,178.0 L468.8,181.2 L465.0,186.2 L457.5,192.5 L450.0,197.5 L442.5,198.8 L436.2,201.8 Z" stroke-width="0.8"/>
<path d="M504.5,167.5 L504.2,164.5 L508.8,162.0 L513.8,160.5 L516.2,162.0 L512.5,163.8 L508.8,166.2 L505.0,167.5 Z" stroke-width="0.8"/>
<path d="M436.2,212.5 L430.0,213.8 L423.8,220.0 L415.0,232.5 L406.2,247.5 L398.8,262.5 L395.5,277.5 L396.2,290.0 L398.0,300.0 L403.8,298.8 L412.5,295.0 L407.0,290.0 L415.0,292.0 L418.0,291.2 L422.5,282.5 L427.5,280.0 L435.0,276.2 L440.0,267.5 L443.8,260.0 L447.0,252.5 L447.0,242.5 L448.0,235.0 L445.0,227.5 L441.2,221.2 L438.8,215.0 Z" stroke-width="0.8"/>
<path d="M377.5,306.2 L380.0,302.5 L393.8,300.8 L395.0,303.8 L388.8,306.2 L383.8,310.0 L378.8,310.0 Z" stroke-width="0.8"/>
<path d="M375.8,415.0 L377.0,405.0 L380.0,395.0 L383.8,385.0 L387.5,372.5 L391.2,357.5 L393.8,345.0 L395.5,330.0 L397.0,317.5 L398.8,311.2 L402.5,308.8 L412.5,308.0 L416.2,312.5 L419.5,310.0 L419.5,315.0 L417.5,320.0 L418.8,326.2 L422.5,332.5 L430.0,338.8 L438.8,342.5 L447.5,341.2 L456.2,335.0 L462.5,326.2 L470.0,322.5 L481.2,320.8" stroke-width="0.8"/>
<path d="M481.2,320.8 L527.5,285.0 L552.5,263.8 L562.5,261.2 L573.8,252.5" stroke-width="1.3"/>
<path d="M573.8,252.5 L576.2,246.2 L581.2,240.0 L582.5,230.0 L581.2,220.0 L583.8,212.5 L587.5,205.0 L590.0,197.5 L595.0,191.2 L602.5,185.0 L608.0,182.0" stroke-width="0.8"/>
<path d="M481.2,320.8 L483.8,323.8 L485.0,327.5 L490.0,335.0 L496.2,346.2 L501.2,357.5 L502.5,367.5 L501.2,380.0 L500.0,390.0 L503.8,398.8 L511.2,407.5 L517.5,408.0 L523.8,402.5 L530.0,402.0 L540.0,403.0 L547.5,407.5 L550.0,415.0" stroke-width="0.8"/>
<path d="M573.8,252.5 L570.0,261.2 L573.8,268.8 L578.8,269.2 L576.2,262.5 L571.2,262.0 L578.8,280.0 L581.2,285.0 L580.0,292.5 L582.5,305.0 L582.5,312.5 L578.8,318.8 L581.2,327.5 L580.0,335.0 L571.2,341.2 L567.5,345.0 L570.0,350.0 L576.2,356.2 L586.2,360.0 L600.0,358.8 L608.0,362.5" stroke-width="0.8"/>
<path d="M513.8,136.3 L515.0,130.0 L523.8,120.0 L537.5,115.0 L555.0,110.5 L575.0,105.0 L592.5,100.0 L608.0,95.5 L615.0,94.5 L620.0,97.0 L619.5,102.5 L615.0,103.8 L607.5,106.3 L600.0,108.0 L600.0,112.5 L590.0,115.0 L577.5,116.3 L572.5,121.3 L565.0,125.0 L557.5,127.5 L547.5,128.8 L537.5,131.3 L532.5,135.0 L525.0,140.0 L518.8,140.8 L514.5,138.0 Z" stroke-width="0.8"/>
<path d="M590.0,106.0 L592.0,109.0 L594.0,105.0 L597.0,108.0 L600.0,104.0 L603.0,107.0 L606.0,103.0" stroke-width="0.7"/>
<path d="M636.2,95.0 L637.5,88.8 L642.5,84.5 L650.0,85.0 L653.8,88.0 L665.0,89.5 L682.5,88.8 L700.0,87.0 L717.5,86.2 L730.0,87.0 L731.8,89.5 L728.8,91.8 L717.5,92.0 L707.5,93.8 L697.5,97.0 L685.0,99.5 L675.0,98.0 L666.2,97.5 L660.0,101.2 L650.0,106.2 L642.5,103.8 L637.5,100.0 Z" stroke-width="0.9"/>
<path d="M772.5,71.2 L780.0,70.0 L795.0,69.5 L812.5,67.5 L825.0,65.8 L832.5,66.2 L834.2,68.8 L830.0,71.2 L820.0,73.0 L810.0,76.2 L805.0,80.0 L797.5,82.5 L787.5,83.8 L780.0,85.5 L775.0,90.0 L773.2,93.8 L770.8,90.0 L770.0,80.0 L771.2,73.8 Z" stroke-width="1.0"/>
<path d="M841.2,62.5 L846.2,61.2 L848.8,63.8 L848.2,67.5" stroke-width="0.8"/>
<path d="M600.0,188.8 L607.5,182.5 L615.0,177.5 L622.5,168.8 L630.0,160.0 L645.0,152.5 L660.0,146.2 L675.0,137.5 L690.0,130.0 L700.0,125.0 L707.5,121.2 L717.5,120.5 L730.0,117.5 L745.0,114.5 L755.0,113.8 L763.8,112.5 L775.0,113.8 L786.2,110.0 L792.5,111.2 L800.0,109.5 L805.0,108.8 L812.5,112.5 L819.5,118.8 L825.0,113.8 L835.0,109.5 L850.0,106.2 L868.0,102.5" stroke-width="0.8"/>
<path d="M786.2,110.0 L783.8,116.2 L782.5,122.5 L785.0,128.8 L790.0,132.5 L797.5,136.2 L800.0,140.0 L807.5,138.8 L813.8,140.0 L814.5,150.0 L813.8,155.0 L816.2,156.2 L814.5,160.0" stroke-width="1.2"/>
<path d="M814.5,160.0 L811.2,163.8 L806.2,165.0 L805.5,172.5 L802.0,177.5 L800.0,182.5 L796.2,187.5 L798.8,193.8 L797.5,201.2 L792.5,206.2 L787.5,215.0 L785.5,225.0 L786.2,232.5 L792.5,240.0 L800.0,242.0 L808.8,242.5 L815.0,245.5 L822.5,250.0 L832.5,252.5 L835.0,243.8 L837.5,232.5 L841.2,222.5 L846.2,213.8 L852.5,210.0 L860.0,203.8 L868.0,201.2" stroke-width="0.9"/>
<path d="M822.5,250.0 L821.2,255.0 L836.2,261.2 L832.5,252.5" stroke-width="0.9"/>
<path d="M836.2,261.2 L837.0,270.0 L836.2,277.5 L841.2,285.0 L847.5,295.0 L853.8,305.0 L850.0,315.0 L846.2,322.5 L830.0,333.8 L821.2,325.0 L808.8,325.0 L800.0,331.2 L792.5,342.5 L780.0,352.5 L772.5,357.5 L766.2,361.2" stroke-width="0.9"/>
<path d="M856.0,48.8 L859.8,46.2 L864.8,47.0 L867.2,51.2 L872.2,54.5 L868.5,55.0 L864.8,55.0 L863.5,58.8 L862.2,62.0 L859.8,58.8 L857.2,53.8 Z" stroke-width="0.8"/>
<path d="M885.5,55.0 L887.2,52.0 L893.5,50.5 L899.8,53.8 L894.8,52.5 L889.8,53.0 L886.0,55.5" stroke-width="0.8"/>
<path d="M891.5,60.0 L892.8,58.8 L894.0,60.0 L892.8,61.2 Z" stroke-width="0.8"/>
<path d="M868.0,102.5 L873.5,102.0 L891.0,97.5 L906.0,91.2 L916.0,87.5 L931.0,84.5 L938.5,84.5 L948.5,88.8 L954.8,86.2 L962.2,88.0 L968.5,92.5 L971.5,97.5 L969.8,105.0 L972.2,112.5 L974.0,125.0 L977.2,133.8 L984.8,141.2 L986.0,145.0 L996.0,148.8 L1006.0,152.5 L1013.5,155.0 L1023.5,153.8 L1029.2,152.5 L1026.0,160.0 L1024.8,167.5 L1028.5,175.0 L1038.5,178.8 L1049.8,181.2 L1058.5,181.2 L1061.5,190.0 L1062.2,202.5" stroke-width="0.8"/>
<path d="M954.8,90.0 L958.5,93.8 L962.2,93.8 L959.8,91.2 L956.0,89.5" stroke-width="0.8"/>
<path d="M1062.2,202.5 L1059.8,206.2 L1064.8,208.0 L1057.2,211.2 L1054.8,220.0 L1053.5,230.0 L1056.0,235.0 L1059.8,237.5 L1058.5,247.5 L1059.8,260.0 L1062.2,272.5 L1064.8,283.8 L1061.0,295.0 L1057.2,310.0 L1052.2,320.0 L1043.5,335.0 L1036.0,347.5 L1031.0,356.2 L1032.2,365.0" stroke-width="0.7"/>
<path d="M868.0,201.2 L873.5,202.5 L879.8,206.2 L883.5,212.5 L888.5,220.0 L893.5,221.2 L897.2,227.5 L902.2,231.2 L906.0,237.5 L908.5,243.0 L916.0,240.0 L923.5,237.5 L934.8,237.5 L946.0,248.8 L961.0,263.8 L976.0,278.8 L991.0,292.5 L1001.0,307.5 L1013.5,322.5 L1019.2,326.2 L1016.0,336.2 L1012.2,344.5 L1018.5,345.5 L1023.5,351.2 L1027.2,355.0 L1028.5,358.8 L1032.2,358.8 L1032.2,365.0" stroke-width="0.9"/>
<path d="M1032.2,360.0 L1028.5,371.2 L1027.2,390.0 L1026.0,410.0 L1025.5,430.0 L1024.8,445.0 L1021.5,450.5 L1013.5,447.5 L1003.5,446.2 L993.5,448.8 L986.0,446.2 L978.5,443.8 L968.5,445.0 L956.0,445.0 L946.0,446.2 L938.5,450.0 L932.2,455.0" stroke-width="0.7"/>
<path d="M932.2,455.0 L936.0,458.8 L935.5,470.0 L934.8,473.8 L947.2,483.0 L942.2,485.0 L937.2,484.5 L934.8,488.8 L926.0,488.8 L931.0,501.2 L930.2,517.5 L941.0,525.0 L951.0,529.2 L963.5,528.8 L972.2,528.8 L973.0,532.5 L986.0,536.2 L997.2,538.8 L1002.2,532.5 L1006.0,525.0 L1009.0,523.8 L1012.2,532.5 L1016.0,542.5 L1021.0,551.2 L1027.2,553.8 L1031.0,562.5 L1032.8,573.8 L1027.2,585.0 L1023.5,595.0 L1020.5,602.5 L1022.2,612.5 L1026.0,620.0 L1031.0,625.0 L1028.5,628.8 L1019.8,631.2 L1013.5,630.5 L1009.8,635.0 L1006.0,645.0 L999.8,651.2 L991.0,653.8 L983.5,661.2 L981.0,670.0 L978.5,676.2 L973.5,679.2 L949.8,680.0" stroke-width="0.7"/>
<path d="M932.2,455.0 L930.2,455.0 L931.0,446.2 L923.5,443.8 L913.5,438.8 L906.0,435.0 L898.5,436.2 L888.5,439.5 L881.0,446.2 L879.2,451.2 L880.5,462.0 L873.5,460.0 L867.2,458.8 L863.5,462.0 L857.2,457.0 L852.2,461.2 L843.5,462.5 L841.0,455.0 L837.2,448.8 L829.8,442.5 L827.2,438.8 L821.0,440.5 L816.0,440.5 L811.0,437.5 L806.0,435.0" stroke-width="1.0"/>
<path d="M949.8,680.0 L937.2,680.0 L928.5,677.5 L923.5,675.5 L926.5,670.0 L925.5,660.0 L918.5,656.2 L913.5,658.8 L908.5,660.0 L903.5,653.0 L893.5,655.0 L881.0,653.8 L873.5,652.5 L868.5,645.0 L862.2,638.8 L854.8,627.0 L846.0,625.8 L836.0,628.8 L833.5,633.8 L823.5,634.2 L816.0,632.5 L806.0,633.8" stroke-width="1.0"/>
<path d="M949.8,680.0 L949.8,687.5 L946.5,692.5 L948.5,695.0" stroke-width="0.7"/>
<path d="M540.0,403.8 L545.0,406.2 L548.8,413.8 L551.2,422.5 L547.5,430.0 L540.0,432.5" stroke-width="0.9"/>
<path d="M550.0,430.0 L560.0,432.5 L570.0,438.8 L577.5,446.2 L585.0,456.2 L592.5,467.5 L597.0,477.5 L597.5,485.0 L591.2,490.0 L587.5,498.8 L586.2,505.0 L590.0,507.5 L583.8,512.5 L578.8,517.5" stroke-width="1.2"/>
<path d="M578.8,517.5 L565.0,527.5 L552.5,536.2 L540.0,545.0" stroke-width="0.9"/>
<path d="M578.8,517.5 L581.2,522.5 L585.0,532.5 L590.0,540.0 L600.0,551.2 L612.5,563.8 L623.8,574.5 L631.2,575.0 L637.5,573.8" stroke-width="1.0"/>
<path d="M597.0,490.0 L606.2,490.0 L613.8,481.2 L622.5,473.8 L632.5,470.0 L645.0,466.2 L647.5,470.0 L655.0,473.0 L665.0,475.5 L676.2,478.8 L690.0,478.0 L697.5,477.0" stroke-width="0.8"/>
<path d="M650.0,360.0 L655.0,365.0 L647.5,375.0 L640.0,387.5 L633.8,397.5 L632.0,410.0 L632.0,430.0 L631.2,442.5 L633.8,446.2 L640.0,453.8 L647.5,462.5 L655.0,464.5 L670.0,464.5 L685.0,464.5 L697.5,464.5 L710.0,460.0 L722.5,456.2 L732.5,452.5 L735.0,446.2 L730.0,441.2 L723.8,439.5" stroke-width="0.8"/>
<path d="M723.8,439.5 L726.2,433.8 L730.0,427.5 L727.5,420.0 L723.8,410.0 L718.8,401.2 L712.5,395.0 L702.5,388.8 L692.5,385.0 L687.5,381.2 L683.8,378.8 L680.0,372.5 L676.2,367.5 L671.2,364.5 L667.5,363.0 L666.2,366.2 L662.5,365.0 L657.5,363.8 L650.0,361.2" stroke-width="0.9"/>
<path d="M685.0,378.8 L692.5,377.5 L700.0,381.2 L712.5,382.5 L717.5,378.8 L722.5,370.0 L731.2,367.5 L735.0,375.0 L740.0,377.5 L745.0,380.0 L747.5,376.2 L760.0,367.5 L770.0,361.2" stroke-width="0.8"/>
<path d="M697.5,477.0 L702.5,482.5 L703.8,492.5 L703.8,503.8 L702.5,515.0 L698.8,525.0 L693.8,533.8 L690.0,542.5 L680.0,551.2 L670.0,558.8 L657.5,567.5 L647.5,573.8 L637.5,578.8 L635.0,585.0 L625.0,592.5 L620.0,605.0 L615.0,616.2 L600.0,621.2 L582.5,626.2 L575.0,622.5 L565.0,613.8 L556.2,606.2 L540.0,593.8" stroke-width="0.8"/>
<path d="M697.5,464.5 L700.0,467.5 L696.2,472.5 L700.0,485.0 L705.5,495.0 L705.5,510.0 L701.2,522.5 L693.8,538.8 L683.8,548.8 L672.5,552.0 L665.0,551.2 L657.5,557.5 L650.0,562.5 L642.5,571.2 L638.8,577.5" stroke-width="0.7"/>
<path d="M623.8,588.8 L620.0,600.0 L616.2,612.5 L600.0,618.8" stroke-width="0.7"/>
<path d="M690.0,477.0 L705.0,477.5 L712.5,481.2 L720.0,488.8 L723.8,495.0 L730.0,500.0 L731.2,506.2 L737.5,507.5 L742.5,501.2 L747.0,502.5 L747.5,510.0 L753.8,511.2 L761.2,502.5 L762.0,495.0 L767.5,485.0 L768.8,477.5 L765.0,470.0 L766.2,462.5 L761.2,456.2 L757.5,453.8 L755.0,456.2 L748.8,455.0 L743.8,451.2 L740.0,446.2 L732.5,441.2 L723.8,439.5" stroke-width="1.1"/>
<path d="M753.8,511.2 L760.0,520.0 L766.2,530.0 L771.2,540.0 L776.2,550.0 L777.5,557.5 L773.8,565.0 L765.0,571.2 L763.8,577.5 L768.8,581.2 L768.8,592.5 L766.2,600.0 L771.2,606.2 L776.2,617.5 L783.8,625.0 L787.5,635.0 L790.0,628.8 L793.8,632.5 L795.0,642.5 L787.5,647.5 L790.0,655.0 L795.0,660.0 L793.8,670.0 L796.2,682.5 L800.0,687.5 L800.0,695.0" stroke-width="1.1"/>
<path d="M763.8,577.5 L761.2,586.2 L760.0,593.8 L765.0,601.2 L770.0,605.0" stroke-width="0.8"/>
<path d="M706.2,506.2 L712.5,507.5 L717.5,516.2 L721.2,525.0 L727.5,521.2 L732.5,523.8 L740.0,515.0 L747.5,510.0" stroke-width="0.9"/>
<path d="M775.0,360.0 L783.8,370.0 L794.5,383.8 L790.0,395.0 L780.0,398.8 L773.8,401.2 L777.5,412.5 L783.8,427.5 L787.5,435.0 L792.5,433.8 L800.0,431.2 L808.0,437.5" stroke-width="0.9"/>
<path d="M577.5,638.8 L583.8,641.2 L590.0,646.2 L591.2,657.5 L600.0,663.8 L602.5,672.5 L608.8,676.2 L606.2,682.5 L602.5,687.5 L602.5,695.0" stroke-width="0.8"/>
<path d="M615.0,691.2 L621.2,690.0 L621.2,695.0" stroke-width="0.8"/>
<path d="M540.0,600.0 L550.0,601.2 L555.0,602.5 L553.8,611.2 L542.5,611.2 L540.0,617.5" stroke-width="0.8"/>
<path d="M776.2,620.0 L787.5,628.8 L800.0,631.2 L808.0,633.8" stroke-width="0.8"/>
<path d="M377.8,400.0 L376.5,412.5 L374.0,430.0 L370.2,450.0 L366.5,472.5 L362.8,495.0 L359.0,512.5 L355.2,532.5 L352.8,545.0 L346.5,562.5 L339.0,580.0 L330.2,600.0 L320.2,620.0 L309.0,640.0 L297.8,657.5 L286.5,672.5 L274.0,683.8" stroke-width="0.8"/>
<path d="M345.2,530.0 L354.0,528.8 L364.0,527.5 L374.0,529.5 L381.5,531.2 L389.0,537.5 L396.5,542.5 L409.0,547.5 L421.5,549.5 L434.0,551.2 L439.0,557.5 L444.0,563.8 L449.0,567.5 L456.5,571.2 L461.5,575.0" stroke-width="1.2"/>
<path d="M409.0,547.5 L410.2,556.2" stroke-width="0.9"/>
<path d="M421.5,549.5 L422.8,556.2" stroke-width="0.9"/>
<path d="M434.0,546.2 L436.5,560.0" stroke-width="0.9"/>
<path d="M349.0,526.2 L359.0,530.0 L369.0,527.0" stroke-width="0.9"/>
<path d="M461.5,575.0 L466.5,572.5 L474.0,570.0 L481.5,560.0 L489.0,552.5 L494.0,545.0 L496.5,540.0 L497.0,520.0 L500.2,530.0 L508.5,531.8 L501.5,536.2 L496.5,542.5" stroke-width="0.9"/>
<path d="M496.5,542.5 L485.2,542.5 L484.0,535.0 L482.8,530.0 L489.0,527.5 L487.8,522.5 L494.0,515.0 L492.8,507.5 L489.0,497.5 L484.0,485.0 L479.0,472.5 L477.0,460.0 L481.5,453.8 L489.0,452.5 L495.2,452.0 L499.0,456.2 L506.5,461.2 L515.2,458.8 L524.0,452.5 L534.0,447.5 L537.8,440.0 L539.0,430.0" stroke-width="0.8"/>
<path d="M504.0,400.0 L512.8,407.5 L521.5,407.5 L526.5,402.5 L542.0,402.5" stroke-width="0.8"/>
<path d="M334.0,588.8 L354.0,597.5 L359.0,594.5 L365.2,596.2 L362.8,605.0 L355.2,615.0 L353.5,625.0 L349.0,633.8 L354.0,638.8 L366.5,640.0 L381.5,634.5 L391.5,632.5 L396.5,633.8 L397.8,642.5 L404.0,640.0 L414.0,635.0 L424.0,632.5 L434.0,625.0 L446.5,620.0 L451.5,612.5 L464.0,610.0 L474.0,602.5 L476.0,597.5" stroke-width="0.9"/>
<path d="M415.2,635.0 L417.8,645.0 L426.5,652.5 L434.0,657.5 L441.0,663.8 L436.5,667.5 L435.2,672.5 L424.0,672.5 L417.8,677.5 L415.2,681.2 L422.8,687.5 L424.0,702.5 L426.5,705.0 L435.2,705.0 L426.5,711.2 L421.5,717.5 L416.5,725.0 L421.5,728.8 L430.2,730.0 L431.5,735.0" stroke-width="0.9"/>
<path d="M461.5,575.0 L471.5,582.5 L475.2,592.5 L476.5,602.5 L474.0,625.0 L471.5,645.0 L469.5,662.5 L474.0,671.2 L484.0,680.0 L491.5,690.0 L494.0,702.5 L499.0,715.0 L506.5,725.0 L514.0,731.2 L521.5,735.0" stroke-width="1.3"/>
<path d="M476.0,597.5 L481.5,586.2 L491.5,585.5 L499.0,587.0 L507.8,590.0 L514.0,597.5 L524.0,593.8 L534.0,591.2 L542.0,593.8" stroke-width="0.8"/>
<path d="M504.0,565.0 L514.0,560.0 L524.0,553.8 L531.5,550.0 L542.0,543.8" stroke-width="1.0"/>
<path d="M504.0,565.0 L506.5,575.0 L507.8,585.0 L511.5,592.5 L521.5,600.0 L534.0,598.8 L542.0,600.0" stroke-width="0.8"/>
<path d="M476.5,615.0 L481.5,610.0 L487.8,608.8 L489.0,612.5 L482.8,612.5 L477.8,617.5 L481.5,625.0 L486.5,630.0 L484.0,637.5 L480.2,646.2 L481.5,652.5 L483.5,662.5 L496.5,657.5 L509.0,655.5 L524.0,657.0 L531.5,640.0 L536.5,625.0 L542.0,615.0" stroke-width="0.8"/>
<path d="M384.0,727.5 L387.8,733.8 L396.5,731.2" stroke-width="0.9"/>
<path d="M948.5,690.0 L946.0,695.0 L942.2,699.5 L933.5,701.2 L930.2,708.8 L931.0,715.0 L938.5,715.0 L948.5,720.0 L956.0,726.2 L964.8,733.8 L969.8,736.2 L971.0,743.8 L969.8,748.0 L963.5,749.5 L961.0,755.0 L960.5,761.2 L956.0,767.5 L948.5,772.5 L942.2,778.2 L937.2,775.0 L933.5,770.5 L928.5,770.0 L918.5,775.0 L906.0,778.8 L896.0,785.0 L894.8,783.8 L886.0,788.8 L881.0,793.8 L872.2,798.0 L867.2,793.0 L862.2,795.0 L856.0,791.2 L850.5,790.0 L851.0,795.0 L854.8,798.0 L854.8,806.2 L853.5,810.0 L843.5,807.0 L842.2,801.2 L828.5,800.0 L826.0,793.8 L819.8,790.0 L816.0,792.5 L806.0,792.5" stroke-width="0.7"/>
<path d="M602.5,690.0 L601.2,696.2 L596.2,700.0 L601.2,704.5 L608.8,702.5 L615.0,698.8 L616.2,692.5 L620.0,690.0 L622.5,702.5 L623.8,713.8 L630.0,720.0 L631.2,732.5 L635.0,737.5 L640.0,743.8 L641.2,750.0 L640.0,757.5 L638.8,761.2" stroke-width="0.8"/>
<path d="M540.0,750.0 L550.0,752.5 L560.0,753.8 L565.0,750.0 L577.5,748.8 L585.0,745.0 L590.0,742.0 L600.0,743.0 L607.5,744.5 L615.0,748.8 L622.5,755.0 L630.0,757.5 L638.8,761.2 L645.0,758.8 L652.5,755.5 L662.5,751.2 L672.5,749.5 L682.5,753.8 L692.5,748.8 L702.5,747.5 L712.5,743.0 L720.0,747.5 L726.2,753.8 L730.5,756.2 L732.5,750.0 L740.0,743.8 L745.0,737.5 L752.5,735.0 L760.0,729.5 L765.0,735.0 L770.0,737.5 L776.2,731.2 L780.0,722.5 L773.8,716.2 L780.0,707.5 L787.5,701.2 L795.0,695.0 L802.5,690.0" stroke-width="1.1"/>
<path d="M540.0,741.2 L550.0,746.2 L565.0,755.0 L577.5,763.8 L587.5,772.5 L593.8,780.0 L596.2,785.0" stroke-width="1.2"/>
<path d="M539.8,814.2 L550.0,812.1 L557.9,814.3 L562.9,819.2 L568.4,819.7 L574.4,814.4 L579.2,807.1 L584.2,794.6 L589.4,786.9 L596.1,784.2 L609.8,782.9 L622.4,778.7 L635.1,779.2 L647.6,780.4 L660.2,781.7 L672.7,786.7 L685.3,789.2 L695.4,794.3 L702.8,799.2 L709.6,799.2 L714.5,793.1 L722.5,790.4 L728.0,793.1 L732.8,798.0 L736.9,796.9 L741.9,789.4 L747.5,786.6 L754.1,789.2" stroke-width="0.55" stroke="#333"/>
<path d="M540.2,815.8 L550.0,813.9 L557.1,815.7 L562.1,820.8 L569.1,821.3 L575.6,815.6 L580.8,807.9 L585.8,795.4 L590.6,788.1 L596.4,785.8 L610.2,784.6 L622.6,780.3 L634.9,780.8 L647.4,782.1 L659.8,783.3 L672.3,788.3 L684.7,790.8 L694.6,795.7 L702.2,800.8 L710.4,800.8 L715.5,794.4 L722.5,792.1 L727.0,794.4 L732.2,799.5 L738.1,798.1 L743.1,790.6 L747.5,788.4 L753.4,790.8" stroke-width="0.55" stroke="#333"/>
<path d="M753.8,790.0 L758.8,792.5 L760.0,797.5 L755.0,802.5 L747.5,806.2 L740.0,810.0 L733.8,808.8 L730.0,813.8 L731.2,817.5" stroke-width="0.8"/>
<path d="M730.5,756.2 L733.8,765.0 L740.0,775.0 L747.5,782.5 L753.8,790.0" stroke-width="1.0"/>
<path d="M753.8,790.0 L765.0,797.5 L775.0,801.2 L788.8,803.8 L789.5,797.5 L783.8,791.2 L780.0,785.0 L772.5,782.0 L780.0,778.8 L787.5,777.5 L795.0,782.5 L800.0,790.0 L808.0,792.5" stroke-width="0.7"/>
<path d="M540.0,852.5 L550.0,850.0 L560.0,846.2 L567.5,840.0 L571.2,828.8 L577.5,818.8 L582.5,815.0 L587.5,820.0 L597.5,820.0 L603.8,811.2 L610.0,813.8 L617.5,816.2 L622.5,812.5 L632.5,811.8 L642.5,816.2 L650.0,825.0 L657.5,830.0 L665.0,835.0 L672.5,838.8 L676.2,843.8 L685.0,844.5 L695.0,842.5 L705.0,841.2 L707.0,835.0 L712.5,833.8 L717.5,837.5 L721.2,845.0 L727.5,848.8 L732.5,847.5" stroke-width="1.1"/>
<path d="M705.0,838.8 L712.5,850.0 L715.0,857.5 L725.0,861.2 L732.5,865.0 L734.5,877.5 L733.8,882.5 L737.5,886.2 L736.2,890.0 L745.0,896.2 L751.2,905.0 L752.5,915.0 L756.2,925.0 L757.5,930.0 L765.0,933.8 L773.8,935.0 L780.0,940.0 L786.2,946.2 L791.2,952.5 L793.8,962.5 L795.0,970.0 L790.0,980.0 L788.8,990.0 L787.5,1000.0 L791.2,1010.0 L786.2,1020.0 L781.2,1025.0" stroke-width="1.1"/>
<path d="M731.2,817.5 L737.5,825.0 L741.2,832.5 L740.0,840.0 L732.5,847.5 L730.0,850.0 L740.0,851.2 L750.0,856.2 L756.2,861.2 L752.5,865.0 L753.8,880.0 L765.0,883.8 L776.2,887.5 L773.8,897.5 L770.0,907.5 L775.0,913.8 L783.8,921.2 L790.0,930.0 L796.2,937.5 L802.5,947.5 L805.0,960.0 L806.2,972.5 L803.8,985.0 L802.5,997.5 L808.0,1002.5" stroke-width="0.6"/>
<path d="M802.5,997.5 L805.0,1012.5 L801.2,1025.0" stroke-width="0.6"/>
<path d="M700.0,927.5 L705.0,928.0 L712.5,930.0 L718.8,933.0 L730.0,931.2 L740.0,927.5 L746.2,925.0 L753.8,932.0 L757.5,930.0" stroke-width="0.9"/>
<path d="M700.0,927.5 L702.5,940.0 L706.2,955.0 L710.0,977.5 L718.8,992.5 L727.0,1007.5 L715.0,1017.5 L700.0,1025.0" stroke-width="0.9"/>
<path d="M396.5,731.2 L387.8,733.8 L381.5,741.2 L370.2,747.5 L372.8,755.0 L366.5,763.8 L359.0,770.0 L351.5,776.2 L344.0,778.0 L339.0,776.2" stroke-width="0.9"/>
<path d="M431.5,732.5 L421.5,733.8 L427.8,743.8 L434.0,752.5 L436.5,762.5" stroke-width="0.8"/>
<path d="M339.1,775.4 L349.2,776.7 L359.3,779.2 L366.6,782.9 L378.8,781.7 L391.2,777.9 L403.7,773.0 L416.1,766.8 L426.3,760.4 L436.4,761.2 L446.1,759.2 L452.3,753.1 L458.6,750.5 L466.3,745.4 L473.7,746.7 L478.4,740.6 L486.2,735.5 L494.1,734.2 L504.4,736.7 L512.0,743.1 L520.6,750.5 L528.8,751.7 L536.2,745.5 L542.2,746.7" stroke-width="0.55" stroke="#333"/>
<path d="M338.9,777.1 L348.8,778.3 L358.7,780.8 L366.4,784.6 L379.2,783.3 L391.8,779.6 L404.3,774.5 L416.9,768.2 L426.7,762.1 L436.6,762.8 L446.9,760.8 L453.2,754.4 L459.4,752.0 L466.7,747.1 L474.3,748.3 L479.6,741.9 L486.8,737.0 L493.9,735.8 L503.6,738.3 L511.0,744.4 L519.9,752.0 L529.2,753.3 L536.8,747.0 L541.8,748.3" stroke-width="0.55" stroke="#333"/>
<path d="M511.5,730.0 L524.0,736.2 L542.0,742.5" stroke-width="1.2"/>
<path d="M274.0,776.2 L284.0,777.5 L292.8,776.2 L304.0,775.0 L316.5,777.5 L326.5,776.2 L334.0,771.2 L336.5,775.0 L339.0,776.2" stroke-width="1.0"/>
<path d="M291.5,776.2 L294.0,780.0" stroke-width="0.8"/>
<path d="M299.0,775.0 L301.0,780.0" stroke-width="0.8"/>
<path d="M309.0,781.2 L311.5,788.8" stroke-width="0.8"/>
<path d="M319.0,780.0 L321.5,786.2" stroke-width="0.8"/>
<path d="M326.5,772.5 L332.8,775.0" stroke-width="0.8"/>
<path d="M306.5,776.2 L307.8,783.8 L311.5,785.0" stroke-width="0.8"/>
<path d="M276.5,781.2 L280.2,788.8 L285.2,790.0" stroke-width="0.8"/>
<path d="M274.0,783.8 L284.0,785.0 L286.5,792.5 L294.0,800.0 L299.0,803.8 L311.5,803.8 L316.5,807.5 L329.0,808.8 L339.0,809.5 L346.5,810.0 L351.5,816.2 L359.0,820.0 L366.5,823.8" stroke-width="1.0"/>
<path d="M274.0,818.8 L284.0,816.2 L296.5,812.5 L306.5,808.8 L314.0,806.2" stroke-width="1.0"/>
<path d="M366.5,783.8 L370.2,791.2 L375.2,798.8 L377.8,805.0 L379.0,811.2 L374.0,816.2 L369.0,822.5 L368.5,830.0 L369.0,842.5 L370.2,857.5" stroke-width="1.3"/>
<path d="M379.0,811.2 L391.5,813.8 L404.0,816.2 L414.0,817.5 L426.5,816.2 L436.5,815.0" stroke-width="1.0"/>
<path d="M436.2,814.2 L443.8,811.2 L452.8,810.4 L461.7,812.9 L474.0,815.4 L486.3,812.9 L494.1,811.7 L504.2,815.4 L514.1,816.7 L526.5,817.2 L533.9,816.2 L541.8,814.7" stroke-width="0.55" stroke="#333"/>
<path d="M436.8,815.8 L444.2,812.8 L452.7,812.1 L461.3,814.6 L474.0,817.1 L486.7,814.6 L493.9,813.3 L503.8,817.1 L513.9,818.3 L526.5,818.8 L534.1,817.8 L542.2,816.3" stroke-width="0.55" stroke="#333"/>
<path d="M436.9,815.7 L424.3,823.3 L411.8,825.8 L404.6,830.6 L401.0,838.0 L394.6,845.6 L387.0,853.2 L379.4,858.3 L370.5,860.8" stroke-width="0.55" stroke="#333"/>
<path d="M436.1,814.3 L423.7,821.7 L411.2,824.2 L403.4,829.4 L399.5,837.0 L393.4,844.4 L386.0,851.8 L378.6,856.7 L370.0,859.2" stroke-width="0.55" stroke="#333"/>
<path d="M404.0,840.0 L411.5,832.5 L419.0,830.0" stroke-width="0.9"/>
<path d="M399.0,850.0 L409.0,845.0 L419.0,843.8 L424.0,841.2" stroke-width="0.9"/>
<path d="M409.0,855.0 L414.0,852.5 L416.5,851.2" stroke-width="0.9"/>
<path d="M426.5,860.0 L427.8,847.5 L431.5,840.0 L436.5,828.8 L437.0,817.5" stroke-width="0.9"/>
<path d="M431.5,845.0 L437.8,841.2 L441.0,838.0" stroke-width="0.9"/>
<path d="M374.0,852.5 L377.8,846.2 L382.8,842.5 L379.0,850.0 L381.5,853.8" stroke-width="0.9"/>
<path d="M370.2,860.0 L381.5,859.5 L394.0,857.5 L406.5,860.0 L416.5,862.5 L429.0,861.2 L439.0,858.8 L449.0,859.5 L459.0,860.0 L469.0,861.2 L479.0,862.5 L489.0,861.2 L496.5,855.0 L506.5,851.2 L516.5,850.0 L526.5,849.5 L534.0,852.5 L542.0,853.8" stroke-width="1.2"/>
<path d="M439.0,858.8 L449.0,862.5 L459.0,865.5 L474.0,863.8 L486.5,865.0 L492.8,860.0" stroke-width="1.0"/>
<path d="M274.0,858.8 L289.0,858.8 L306.5,858.0 L321.5,860.0 L331.5,865.0 L341.5,867.0 L351.5,865.0 L360.2,861.2 L370.2,860.0" stroke-width="0.8"/>
<path d="M304.0,858.0 L305.2,866.2 L299.0,873.8 L289.0,880.0 L274.0,883.8" stroke-width="0.9"/>
<path d="M274.0,841.2 L281.5,843.8 L291.5,850.0 L292.8,853.8 L284.0,852.5 L274.0,846.2 Z" stroke-width="0.8"/>
<path d="M306.5,858.0 L314.0,865.0 L324.0,872.5 L336.5,875.0 L349.0,872.5 L359.0,870.0 L366.5,863.8 L370.2,860.0" stroke-width="0.8"/>
<path d="M297.8,886.2 L304.0,892.5 L311.5,897.5 L319.0,905.0" stroke-width="0.9"/>
<path d="M274.0,905.0 L280.2,907.5 L285.2,908.8 L281.5,910.0" stroke-width="0.9"/>
<path d="M351.5,870.0 L353.5,877.5" stroke-width="0.9"/>
<path d="M357.8,870.0 L360.2,876.2" stroke-width="0.9"/>
<path d="M362.8,868.8 L364.0,872.0" stroke-width="0.9"/>
<path d="M292.8,866.2 L304.0,870.0 L311.5,867.0" stroke-width="0.9"/>
<path d="M474.0,816.2 L476.5,821.2 L486.5,828.8 L494.0,831.2 L501.5,835.0 L507.8,837.5 L509.0,843.8 L517.8,842.5 L520.2,846.2" stroke-width="1.0"/>
<path d="M509.0,843.8 L502.8,850.0 L496.5,855.0" stroke-width="1.0"/>
<path d="M452.8,753.8 L454.0,762.5 L457.8,771.2 L464.0,778.8 L469.0,780.0 L470.2,788.8 L476.5,790.0 L477.8,798.8 L469.0,798.0 L471.5,805.0 L477.8,806.2 L478.5,813.8" stroke-width="0.8"/>
<path d="M517.8,751.2 L511.5,765.0 L504.0,780.0 L496.5,786.2 L486.5,791.2 L485.2,796.2 L489.0,797.5" stroke-width="0.8"/>
<path d="M274.0,1010.0 L285.2,1009.5 L286.5,1017.5 L299.0,1019.5 L311.5,1013.8 L305.2,1001.2 L299.0,990.0 L301.5,986.2 L298.5,978.8 L311.5,971.2 L324.0,965.5 L341.5,963.8 L344.0,967.5 L339.5,977.5 L341.0,988.8 L351.5,985.5 L361.5,987.5 L371.5,990.0 L377.0,988.8 L377.8,980.0 L386.5,971.2 L394.0,963.8 L399.0,957.5 L405.2,954.5 L411.5,957.5 L417.8,958.8 L419.0,963.8 L425.2,965.0 L424.0,976.2 L420.2,982.5 L421.5,991.2 L414.0,988.8 L406.5,986.2 L405.2,992.5 L410.2,995.5 L424.0,993.8 L434.0,995.0 L441.0,994.5 L446.5,1002.5 L454.0,995.0 L464.0,985.0 L471.5,977.5 L472.8,970.0 L479.0,962.5 L481.5,968.8 L491.5,969.5 L497.8,986.2 L489.0,1003.8 L501.5,1020.0 L506.5,1038.8 L514.0,1040.5 L524.0,1035.5 L535.2,1042.5 L536.5,1052.5 L532.8,1061.2 L542.0,1062.5" stroke-width="0.6"/>
<path d="M198.0,768.8 L193.0,765.0 L188.0,757.5 L186.8,748.8 L190.5,741.2 L198.0,737.5 L208.0,737.0 L220.5,738.8 L233.0,743.8 L243.0,750.0 L253.0,757.5 L258.0,767.5 L259.2,777.5 L263.0,783.8 L268.0,788.8 L276.0,790.0" stroke-width="0.8"/>
<path d="M193.0,761.2 L191.0,751.2 L194.2,743.8 L201.8,741.2 L198.0,748.8 L196.8,757.5 L200.5,763.8" stroke-width="0.8"/>
<path d="M210.5,735.0 L225.5,741.2 L240.5,752.5 L254.2,763.8 L258.0,773.8" stroke-width="1.0"/>
<path d="M220.5,747.5 L223.0,755.0" stroke-width="0.8"/>
<path d="M228.0,750.0 L230.5,757.5" stroke-width="0.8"/>
<path d="M235.5,752.5 L236.8,758.0" stroke-width="0.8"/>
<path d="M205.5,745.0 L215.5,743.8 L216.8,747.5 L206.8,749.5" stroke-width="0.8"/>
<path d="M205.5,753.8 L216.8,752.0 L217.5,755.0 L208.0,757.5" stroke-width="0.8"/>
<path d="M200.5,765.0 L210.5,761.2 L223.0,762.5 L233.0,760.0 L243.0,763.8 L251.8,771.2 L258.0,778.8" stroke-width="1.0"/>
<path d="M198.0,768.8 L208.0,767.5 L215.5,765.0 L223.0,766.2" stroke-width="0.8"/>
<path d="M205.5,770.0 L205.5,780.0 L210.5,790.0 L215.5,797.5 L214.2,802.5 L223.0,807.5 L230.5,811.2 L238.0,812.5 L248.0,818.8 L258.0,825.0 L265.5,830.0 L276.0,828.8" stroke-width="0.8"/>
<path d="M198.0,798.8 L201.8,802.5 L205.5,807.5 L210.5,812.5 L218.0,817.5 L228.0,823.8 L240.5,831.2 L253.0,840.0 L263.0,850.0 L270.5,855.0 L276.0,857.5" stroke-width="0.8"/>
<path d="M208.0,810.0 L215.5,802.5 L219.2,817.5" stroke-width="0.9"/>
<path d="M276.0,843.8 L270.5,842.5 L265.5,845.0 L270.5,851.2 L276.0,855.0" stroke-width="0.8"/>
<path d="M259.2,828.8 L263.0,823.8 L270.5,820.0 L276.0,821.2" stroke-width="0.8"/>
<path d="M158.0,810.0 L168.0,806.2 L180.5,802.5 L190.5,800.0 L199.2,798.8" stroke-width="0.9"/>
<path d="M158.0,810.0 L156.8,816.2 L159.2,826.2 L158.0,835.0 L151.8,838.8 L146.8,843.8 L153.0,841.2 L160.5,837.5" stroke-width="0.8"/>
<path d="M168.0,832.5 L174.2,825.0 L183.0,823.8 L186.8,830.0 L180.5,832.5 L173.0,833.8 Z" stroke-width="0.8"/>
<path d="M198.0,825.0 L200.5,835.0 L203.0,845.0 L205.5,852.5 L210.5,858.8 L220.5,861.2 L230.5,862.5 L238.0,866.2 L240.5,872.5" stroke-width="0.8"/>
<path d="M170.5,846.2 L178.0,843.8 L183.0,847.5 L175.5,850.0 Z" stroke-width="0.8"/>
<path d="M191.8,840.0 L195.5,843.8 L198.0,852.5 L194.2,848.8 Z" stroke-width="0.8"/>
<path d="M215.5,880.0 L223.0,878.8 L233.0,875.0 L240.5,872.5 L248.0,877.5 L258.0,882.5 L268.0,885.0 L276.0,883.8" stroke-width="0.8"/>
<path d="M220.5,878.8 L228.0,877.5 L233.0,880.0" stroke-width="0.8"/>
<path d="M233.0,882.5 L240.5,881.2 L248.0,890.0 L243.0,887.5 L235.5,886.2" stroke-width="0.8"/>
<path d="M118.0,877.5 L128.0,872.5 L138.0,867.0 L144.2,866.2 L146.0,870.0 L153.0,873.8 L158.0,876.2 L161.8,883.8 L164.2,891.2 L170.5,896.2 L176.8,895.0 L180.5,900.0 L188.0,902.5 L198.0,901.2 L208.0,898.8 L218.0,898.0 L228.0,902.5 L238.0,906.2 L245.5,905.0" stroke-width="0.8"/>
<path d="M118.0,877.5 L113.0,872.5 L108.0,865.0 L107.5,856.2 L111.8,850.0 L120.5,846.2 L133.0,844.5 L146.8,845.0 L158.0,845.5 L168.0,847.5 L171.8,850.0 L180.5,849.5 L188.0,852.0 L194.2,862.5 L198.0,870.0 L205.5,877.5 L215.5,882.5 L220.5,890.0 L215.5,897.5" stroke-width="0.8"/>
<path d="M104.2,897.5 L110.5,892.5 L118.0,886.2 L119.2,892.5 L113.0,896.2 L108.0,898.8 L107.5,907.5" stroke-width="0.9"/>
<path d="M108.0,890.0 L115.5,885.0 L118.0,880.0" stroke-width="0.9"/>
<path d="M91.8,912.0 L107.5,907.5 L115.5,910.0 L125.5,908.0 L138.0,906.2 L148.0,906.2 L155.5,908.8 L160.5,915.0 L164.2,921.2 L163.0,927.5 L158.0,930.0" stroke-width="0.8"/>
<path d="M118.0,937.5 L125.5,930.0 L133.0,927.5 L140.5,930.0 L148.0,928.8 L158.0,932.5 L168.0,933.8 L174.2,937.5 L180.5,942.5 L188.0,942.0 L198.0,945.0" stroke-width="0.8"/>
<path d="M125.5,931.2 L130.5,928.8 L135.5,932.0 L128.0,933.0" stroke-width="0.9"/>
<path d="M38.0,937.5 L37.5,931.2 L45.5,925.0 L58.0,916.2 L70.5,910.5 L80.5,908.8 L91.8,912.0 L94.2,920.0 L100.5,927.5 L104.2,937.5 L100.5,945.0 L93.0,952.5 L85.5,960.0 L80.5,970.0 L79.2,976.2 L75.5,976.2 L68.0,971.2 L61.8,962.5 L55.5,952.5 L48.0,945.0 L41.8,941.2 Z" stroke-width="0.8"/>
<path d="M91.8,912.0 L98.0,917.5 L103.0,925.0 L106.8,930.0 L109.2,937.5 L113.0,945.0 L118.0,942.5 L116.8,937.5 L110.5,928.8 L111.0,922.5" stroke-width="0.9"/>
<path d="M103.0,930.0 L106.8,940.0 L114.2,945.5" stroke-width="0.9"/>
<path d="M79.2,976.2 L90.5,975.0 L100.5,971.2 L108.0,966.2 L113.0,962.5 L115.5,968.8 L110.5,973.8 L115.5,977.5 L118.0,985.0 L128.0,991.2 L138.0,997.5 L148.0,1001.2 L158.0,1000.0 L168.0,997.5 L178.0,995.0 L183.0,993.8 L190.5,995.0 L198.0,998.8 L205.5,1005.0 L215.5,1012.5 L225.5,1017.5 L233.0,1015.0 L240.5,1012.5 L248.0,1015.0 L258.0,1010.0 L265.5,1005.0 L276.0,1007.5" stroke-width="0.8"/>
<path d="M98.0,971.2 L105.5,967.5 L113.0,965.0 L108.0,971.2 L104.2,973.8" stroke-width="0.9"/>
<path d="M195.5,945.0 L194.2,955.0 L194.2,965.0 L196.8,976.2 L198.0,980.0" stroke-width="1.2"/>
<path d="M198.0,945.0 L208.0,952.5 L209.2,957.5 L208.0,965.0 L215.5,973.8 L225.5,980.0 L235.5,983.8 L245.5,980.0 L255.5,980.0" stroke-width="0.8"/>
<path d="M160.5,998.8 L165.5,992.5 L168.0,982.5 L170.5,972.5 L178.0,973.8 L185.5,971.2 L193.0,976.2 L198.0,980.0 L205.5,987.5 L215.5,993.8 L223.0,996.2" stroke-width="0.8"/>
<path d="M245.5,905.0 L238.0,908.8 L228.0,906.2 L218.0,905.0 L208.0,906.2 L198.0,910.0 L190.5,915.0 L191.8,920.0 L198.0,925.0 L205.5,930.0 L211.8,937.5 L218.0,942.5 L228.0,943.8 L238.0,945.0 L241.8,950.0" stroke-width="0.8"/>
<path d="M254.2,950.0 L255.5,962.5 L256.8,977.5 L258.0,990.0 L259.2,1002.5" stroke-width="1.4"/>
<path d="M238.0,870.0 L248.0,880.0 L255.5,892.5 L249.2,902.5 L246.8,910.0 L251.8,920.0 L256.8,930.0 L258.0,940.0 L254.2,950.0" stroke-width="0.8"/>
<path d="M258.0,895.0 L268.0,892.5 L276.0,890.0" stroke-width="0.8"/>
<path d="M268.0,900.0 L273.0,905.0" stroke-width="0.8"/>
<path d="M238.0,947.5 L245.5,950.0 L251.8,955.0 L258.0,952.5 L265.5,955.0 L269.2,962.5 L263.0,965.0 L268.0,970.0 L263.0,976.2" stroke-width="0.8"/>
<path d="M259.2,1002.5 L265.5,1007.5 L270.5,1008.8 L276.0,1007.5" stroke-width="0.8"/>
<path d="M18.0,1005.0 L28.0,1000.0 L38.0,998.8 L48.0,995.0 L58.0,991.2 L68.0,992.5 L78.0,998.8 L88.0,1003.8 L100.5,1007.5 L110.5,1012.5 L118.0,1017.5 L125.5,1020.0 L129.2,1023.8 L130.5,1018.8 L138.0,1020.0 L148.0,1022.5 L153.0,1026.2 L158.0,1022.5 L165.5,1017.5 L178.0,1012.5 L184.2,1002.5 L186.8,996.2 L191.8,995.0" stroke-width="0.8"/>
<path d="M141.8,1023.8 L144.2,1033.8 L146.0,1042.5 L145.0,1055.0 L139.2,1065.0" stroke-width="1.1"/>
<path d="M151.8,1025.0 L153.0,1033.8 L158.0,1038.8 L160.5,1042.5 L164.2,1042.5" stroke-width="0.8"/>
<path d="M225.5,1015.0 L230.5,1013.8 L229.2,1020.0 L235.5,1017.5 L234.2,1023.8 L240.5,1021.2 L244.2,1012.5 L249.2,1010.0 L246.8,1017.5 L240.5,1026.2 L231.8,1026.2 L226.8,1021.2" stroke-width="0.9"/>
<path d="M18.0,1005.0 L19.2,1015.0 L20.5,1020.0 L14.2,1028.8 L16.8,1033.8 L15.5,1040.0 L20.5,1047.5 L26.8,1055.0 L33.0,1060.0 L40.5,1063.8" stroke-width="0.7"/>
<path d="M58.0,1065.0 L59.2,1045.0 L68.0,1042.5 L75.5,1040.0 L76.8,1043.8 L80.5,1038.8 L90.5,1042.5 L103.0,1048.8 L113.0,1052.5 L123.0,1055.0 L133.0,1060.0 L135.5,1065.0" stroke-width="0.6"/>
<path d="M258.0,1020.0 L248.0,1035.0 L233.0,1050.0 L218.0,1060.0 L208.0,1065.0" stroke-width="0.6"/>
<path d="M726.2,1007.5 L711.2,1021.2 L685.0,1029.5 L656.2,1037.5 L650.0,1046.2 L643.8,1056.2 L641.2,1067.5 L640.0,1076.2 L625.5,1080.0" stroke-width="0.9"/>
<path d="M560.0,1061.2 L565.0,1056.2 L575.0,1058.8 L585.0,1062.0 L592.5,1053.8 L602.5,1046.2 L610.0,1047.5 L616.2,1053.8 L623.8,1058.8 L623.0,1072.5 L625.5,1080.0 L635.0,1083.8 L647.5,1090.0 L652.5,1095.5 L660.0,1097.0 L670.0,1095.5 L677.5,1093.8 L683.8,1098.8 L682.5,1103.8 L686.2,1110.0 L692.5,1107.5 L697.5,1103.8 L702.5,1107.5 L707.5,1111.2 L703.8,1117.5 L696.2,1122.5 L695.0,1128.8 L700.0,1133.8 L695.0,1140.0 L688.8,1142.5 L690.0,1150.0 L685.0,1155.0 L681.2,1161.2 L685.0,1167.5 L682.5,1177.5 L677.5,1185.0 L671.2,1191.2 L670.0,1196.2 L677.5,1197.5 L675.0,1205.0 L671.2,1212.5 L667.5,1220.0 L661.2,1225.0 L658.8,1231.2 L662.5,1236.2 L656.2,1231.2 L650.0,1233.8 L647.0,1242.5 L648.8,1251.2 L653.8,1257.5 L661.2,1260.0 L662.5,1270.0 L663.8,1277.5 L660.0,1282.5 L662.5,1286.2 L670.0,1283.8 L675.0,1280.0 L682.5,1275.0 L687.5,1277.5 L692.5,1283.8 L700.0,1282.5 L705.0,1285.0 L712.5,1281.2 L716.2,1280.0 L720.0,1287.5 L727.5,1285.0 L735.0,1282.5 L742.5,1286.2 L752.5,1286.2 L755.0,1277.5 L748.8,1272.5 L741.2,1266.2 L745.0,1262.5 L752.5,1257.5 L753.8,1251.2 L752.5,1245.0 L760.0,1241.2 L767.5,1243.8 L772.5,1235.0 L770.0,1225.0 L773.8,1212.5 L765.0,1211.2 L760.0,1205.0 L752.5,1202.5 L751.2,1195.0 L753.8,1185.0 L745.0,1186.2 L735.0,1184.5 L725.0,1187.5 L718.8,1188.8 L720.0,1178.8 L713.8,1170.0 L710.0,1156.2 L717.5,1153.8 L723.8,1148.8 L730.0,1161.2 L736.2,1156.2 L738.0,1148.8 L745.0,1141.2 L755.0,1133.8 L767.5,1125.0 L775.0,1118.8 L785.0,1112.5 L795.0,1107.5 L788.8,1101.2 L796.2,1093.8 L792.5,1091.2 L782.5,1097.5 L775.0,1101.2 L768.8,1100.0 L765.5,1090.0 L765.5,1080.0 L770.0,1077.5 L766.2,1071.2 L772.5,1063.8 L781.2,1051.2 L788.8,1040.0 L792.5,1030.0 L800.0,1027.5 L803.8,1020.0 L808.8,1015.0 L806.2,1005.0" stroke-width="0.6"/>
<path d="M791.2,1005.0 L792.5,1011.2 L787.5,1017.5 L780.0,1026.2 L777.5,1035.0 L773.8,1042.5 L765.0,1047.5 L757.5,1052.5 L750.0,1058.8 L747.5,1066.2 L743.8,1075.0 L735.0,1082.5 L727.5,1090.0 L726.2,1095.0 L732.5,1098.8 L731.2,1105.0 L725.0,1101.2 L723.8,1097.5 L716.2,1106.2 L713.8,1110.0 L707.5,1125.0 L700.0,1140.0 L692.5,1155.0 L685.0,1171.2 L678.8,1187.5 L680.0,1198.8 L675.0,1210.0 L668.8,1222.5 L662.5,1236.2 L663.0,1245.0 L662.0,1255.0 L663.8,1267.5 L663.8,1275.0" stroke-width="1.2"/>
<path d="M302.1,650.0 L296.9,657.5 L289.4,667.9 L280.4,678.4 L271.5,688.8 L262.5,699.3 L253.6,709.7 L244.6,720.1 L237.2,729.1 L229.7,736.6 L224.5,739.6" stroke-width="0.8"/>
<path d="M267.8,688.5 L270.3,689.1 L271.5,690.6 L268.8,690.3 Z" stroke-width="0.8"/>
<path d="M258.1,769.4 L259.6,764.9 L265.5,769.4 L273.0,773.9 L280.4,777.6 L289.4,778.7 L296.9,778.1 L304.3,776.9 L311.8,776.1 L319.3,775.4 L325.2,774.6 L330.0,773.9" stroke-width="1.1"/>
<path d="M258.1,830.6 L262.5,828.4 L267.0,823.1 L274.5,819.4 L283.4,817.2 L292.4,814.2 L298.4,812.7 L304.3,809.0 L310.3,807.5 L314.8,806.7 L319.3,808.2 L325.2,807.5 L330.0,806.7" stroke-width="1.1"/>
<path d="M286.4,790.3 L289.4,796.3 L293.9,800.7 L298.4,803.0 L304.3,803.7 L310.3,803.7 L316.3,807.5" stroke-width="0.9"/>
<path d="M258.1,778.4 L259.6,784.3 L265.5,791.0 L271.5,793.3 L286.4,792.5 L285.7,779.9" stroke-width="0.9"/>
<path d="M270.0,781.3 L271.5,790.3" stroke-width="0.8"/>
<path d="M274.5,780.6 L276.7,791.0" stroke-width="0.8"/>
<path d="M280.4,781.3 L281.9,791.0" stroke-width="0.8"/>
<path d="M261.0,781.3 L264.0,779.9 L262.5,785.1" stroke-width="0.8"/>
<path d="M289.4,781.3 L290.9,786.6" stroke-width="0.8"/>
<path d="M293.9,779.9 L294.6,785.1" stroke-width="0.8"/>
<path d="M298.4,779.9 L299.9,782.1" stroke-width="0.8"/>
<path d="M304.3,784.3 L310.3,787.3 L313.3,790.3" stroke-width="0.8"/>
<path d="M305.8,779.9 L311.8,781.3 L317.0,780.6" stroke-width="0.8"/>
<path d="M292.4,776.9 L296.9,775.4 L301.3,776.9 L305.8,775.4" stroke-width="0.8"/>
<path d="M308.8,773.9 L313.3,774.6 L317.8,776.9" stroke-width="0.8"/>
<path d="M235.7,748.5 L241.6,757.5 L247.6,763.4 L253.6,767.9 L257.3,775.4" stroke-width="0.8"/>
<path d="M222.2,747.0 L221.5,753.0 L224.5,756.0 L226.0,750.0 L229.0,757.5 L232.7,753.0 L235.7,757.5" stroke-width="0.8"/>
<path d="M205.8,779.9 L205.1,784.3 L208.8,790.3 L213.3,796.3 L214.8,801.5 L219.3,806.0 L225.2,810.4 L232.7,811.9 L238.7,811.2 L243.1,814.2 L247.6,818.7 L253.6,823.1 L258.1,827.6 L261.0,835.1 L265.5,838.4 L274.5,840.3 L283.4,844.0 L292.4,848.5" stroke-width="0.8"/>
<path d="M205.8,779.9 L207.3,773.9 L211.8,769.4 L217.8,764.9 L222.2,764.2" stroke-width="0.8"/>
<path d="M207.3,811.2 L210.3,806.7 L214.8,802.2" stroke-width="0.9"/>
<path d="M234.2,821.6 L237.9,820.9" stroke-width="0.9"/>
<path d="M267.0,842.5 L274.5,841.8 L284.9,845.5 L293.9,849.3 L283.4,848.5 L273.0,846.3 L267.8,844.8 Z" stroke-width="0.8"/>
<path d="M134.1,1060.6 L132.7,1077.3 L136.9,1080.1 L145.3,1080.7 L153.6,1078.7 L160.6,1084.3 L167.6,1082.9 L170.4,1078.7 L178.8,1078.7 L184.4,1073.1 L192.7,1067.5 L201.1,1066.1 L208.1,1066.7 L220.7,1057.8" stroke-width="0.6"/>
<path d="M147.5,1052.2 L143.9,1060.6 L138.3,1070.3 L136.3,1078.7" stroke-width="1.1"/>
<path d="M258.4,1001.9 L268.2,1008.0 L284.9,1009.7 L287.7,1017.3 L300.0,1019.2" stroke-width="0.6"/>
<path d="M300.0,1019.0 L285.0,1010.0 L274.0,1010.0" stroke-width="0.6"/>
<path d="M542.0,1062.5 L560.0,1061.0" stroke-width="0.6"/>
<path d="M40.5,1064.0 L50.0,1066.0 L58.0,1065.0" stroke-width="0.6"/>
</g>
<g>
<path d="M34.9,1287.4 Q17.5,1289.7 2.3,1295.5 Q18.6,1292.3 33.8,1289.7 Z" fill="#777"/>
<path d="M40.2,1290.6 Q29.7,1300.2 12.2,1306.6 Q25.0,1300.2 30.5,1290.6 Z" fill="#666"/>
<path d="M41.3,1241.4 C48.9,1251.3 58.2,1265.3 59.1,1274.6 L58.8,1277.8 50.1,1279.8 41.9,1282.1 44.8,1275.2 C37.3,1265.3 37.3,1251.3 41.3,1241.4 Z" fill="#585858"/>
<path d="M49.5,1291.5 L60.5,1287.4 64.6,1286.2 C69.8,1290.9 73.3,1297.9 74.0,1303.5 C65.2,1304.8 54.7,1300.2 49.5,1291.5 Z" fill="#585858"/>
<path d="M32.6,1289.5 L38.4,1285.1 45.4,1281.0 52.4,1278.3 58.8,1277.5 60.0,1282.1 60.5,1286.8 55.9,1289.7 48.9,1291.1 40.7,1291.1 34.9,1290.6 Z" fill="#b8b8b8"/>
<path d="M41.9,1282.1 L52.4,1278.3 58.8,1277.5 58.0,1283.9 50.1,1285.1 Z" fill="#999"/>
<path d="M58.8,1277.8 L62.9,1277.1 66.4,1278.3 63.4,1281.6 62.9,1286.2 60.5,1287.0 58.2,1285.1 57.9,1281.0 Z" fill="#1a1a1a"/>
<path d="M63.4,1281.0 L68.1,1279.0 65.2,1283.3 63.4,1285.1 Z" fill="#9a9a9a"/>
<path d="M39.6,1260.0 Q50.1,1258.3 55.3,1264.1 M44.8,1246.6 Q47.7,1261.8 45.4,1274.6 M51.2,1276.3 L57.6,1268.2 M53.6,1293.2 Q65.2,1292.0 71.6,1297.9 M63.4,1287.4 Q66.9,1295.5 67.5,1303.7" stroke="#8a8a8a" stroke-width="0.35" fill="none"/>
<text x="33" y="1325.3" textLength="80.5" lengthAdjust="spacingAndGlyphs" style="font-family:'Liberation Sans',sans-serif;font-size:31px" fill="#484848" stroke="#fff" stroke-width="0.8">Sovon</text>
</g>
<text x="133" y="1290" class="ft">Twite - Linaria flavirostris</text>
<text x="133" y="1310" class="ft" xml:space="preserve">Abundance change wintering  2013-2015 vs 1979-1983</text>
<text x="133" y="1330" class="ft">© Sovon Vogelonderzoek Nederland (Vogelatlas)</text>
</svg>
</body></html>
